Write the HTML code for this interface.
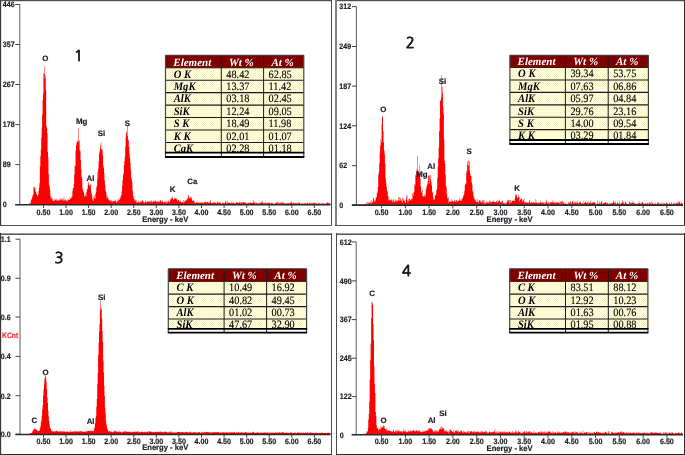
<!DOCTYPE html>
<html><head><meta charset="utf-8"><title>EDX spectra</title>
<style>html,body{margin:0;padding:0;background:#fff;} body{width:685px;height:455px;overflow:hidden;} svg{display:block;}</style>
</head><body>
<svg text-rendering="geometricPrecision" width="685" height="455" viewBox="0 0 685 455">
<defs><pattern id="chk" width="2" height="2" patternUnits="userSpaceOnUse"><rect width="2" height="2" fill="#fffff2"/><rect width="1" height="1" fill="#faf5b4"/><rect x="1" y="1" width="1" height="1" fill="#faf5b4"/></pattern></defs>
<rect width="685" height="455" fill="#fff"/>
<rect x="0" y="0" width="332" height="1" fill="#4e4e4e"/>
<rect x="0" y="1" width="332" height="0.35" fill="#999"/>
<rect x="0" y="0" width="1" height="226" fill="#383838"/>
<rect x="1" y="0" width="0.3" height="226" fill="#999"/>
<rect x="331" y="0" width="1" height="226" fill="#4c4c4c"/>
<rect x="0" y="225" width="332" height="1" fill="#555"/>
<rect x="335" y="0" width="350" height="1" fill="#4e4e4e"/>
<rect x="335" y="1" width="350" height="0.35" fill="#999"/>
<rect x="335" y="0" width="2" height="226" fill="#828282"/>
<rect x="684" y="0" width="1" height="226" fill="#2c2c2c"/>
<rect x="335" y="225" width="350" height="1" fill="#555"/>
<rect x="0" y="233" width="332" height="1" fill="#a0a0a0"/>
<rect x="0" y="234" width="332" height="1" fill="#5a5a5a"/>
<rect x="0" y="233" width="1" height="222" fill="#383838"/>
<rect x="1" y="233" width="0.3" height="222" fill="#999"/>
<rect x="331" y="233" width="1" height="222" fill="#4c4c4c"/>
<rect x="0" y="454" width="332" height="1" fill="#2c2c2c"/>
<rect x="336" y="233" width="349" height="1" fill="#a0a0a0"/>
<rect x="336" y="234" width="349" height="1" fill="#5a5a5a"/>
<rect x="336" y="233" width="1" height="222" fill="#4c4c4c"/>
<rect x="684" y="233" width="1" height="222" fill="#2c2c2c"/>
<rect x="336" y="454" width="349" height="1" fill="#2c2c2c"/>
<path d="M23.61,204.5 L23.61,204.50 L24.06,204.50 L24.06,204.50 L24.51,204.50 L24.51,204.50 L24.96,204.50 L24.96,204.50 L25.41,204.50 L25.41,204.50 L25.87,204.50 L25.87,204.50 L26.32,204.50 L26.32,204.50 L26.77,204.50 L26.77,204.50 L27.22,204.50 L27.22,204.48 L27.67,204.48 L27.67,204.09 L28.12,204.09 L28.12,204.38 L28.58,204.38 L28.58,203.99 L29.03,203.99 L29.03,204.28 L29.48,204.28 L29.48,202.87 L29.93,202.87 L29.93,202.80 L30.38,202.80 L30.38,203.71 L30.83,203.71 L30.83,200.17 L31.28,200.17 L31.28,199.23 L31.74,199.23 L31.74,198.80 L32.19,198.80 L32.19,196.49 L32.64,196.49 L32.64,195.36 L33.09,195.36 L33.09,194.30 L33.54,194.30 L33.54,186.92 L33.99,186.92 L33.99,188.51 L34.45,188.51 L34.45,186.60 L34.90,186.60 L34.90,187.38 L35.35,187.38 L35.35,192.10 L35.80,192.10 L35.80,191.36 L36.25,191.36 L36.25,194.06 L36.70,194.06 L36.70,194.18 L37.15,194.18 L37.15,196.39 L37.61,196.39 L37.61,195.62 L38.06,195.62 L38.06,194.55 L38.51,194.55 L38.51,190.89 L38.96,190.89 L38.96,187.79 L39.41,187.79 L39.41,183.24 L39.86,183.24 L39.86,166.40 L40.31,166.40 L40.31,156.27 L40.77,156.27 L40.77,149.47 L41.22,149.47 L41.22,137.63 L41.67,137.63 L41.67,127.71 L42.12,127.71 L42.12,114.65 L42.57,114.65 L42.57,100.29 L43.02,100.29 L43.02,93.82 L43.48,93.82 L43.47,73.04 L43.93,73.04 L43.93,73.99 L44.38,73.99 L44.38,66.40 L44.83,66.40 L44.83,78.17 L45.28,78.17 L45.28,75.23 L45.73,75.23 L45.73,90.78 L46.18,90.78 L46.18,125.67 L46.64,125.67 L46.64,127.78 L47.09,127.78 L47.09,133.00 L47.54,133.00 L47.54,152.11 L47.99,152.11 L47.99,156.94 L48.44,156.94 L48.44,174.11 L48.89,174.11 L48.89,184.73 L49.34,184.73 L49.34,186.45 L49.80,186.45 L49.80,190.08 L50.25,190.08 L50.25,195.58 L50.70,195.58 L50.70,198.45 L51.15,198.45 L51.15,198.44 L51.60,198.44 L51.60,196.28 L52.05,196.28 L52.05,198.43 L52.51,198.43 L52.50,200.86 L52.96,200.86 L52.96,200.22 L53.41,200.22 L53.41,200.92 L53.86,200.92 L53.86,201.26 L54.31,201.26 L54.31,198.91 L54.76,198.91 L54.76,200.60 L55.21,200.60 L55.21,199.59 L55.67,199.59 L55.67,199.92 L56.12,199.92 L56.12,200.60 L56.57,200.60 L56.57,198.91 L57.02,198.91 L57.02,200.94 L57.47,200.94 L57.47,199.25 L57.92,199.25 L57.92,200.94 L58.37,200.94 L58.37,199.92 L58.83,199.92 L58.83,200.60 L59.28,200.60 L59.28,200.26 L59.73,200.26 L59.73,197.56 L60.18,197.56 L60.18,198.91 L60.63,198.91 L60.63,200.26 L61.08,200.26 L61.08,198.24 L61.54,198.24 L61.53,200.60 L61.99,200.60 L61.99,199.92 L62.44,199.92 L62.44,198.57 L62.89,198.57 L62.89,199.25 L63.34,199.25 L63.34,200.94 L63.79,200.94 L63.79,196.88 L64.24,196.88 L64.24,200.60 L64.70,200.60 L64.70,200.60 L65.15,200.60 L65.15,198.91 L65.60,198.91 L65.60,200.26 L66.05,200.26 L66.05,200.26 L66.50,200.26 L66.50,201.28 L66.95,201.28 L66.95,201.28 L67.40,201.28 L67.40,199.59 L67.86,199.59 L67.86,200.61 L68.31,200.61 L68.31,199.59 L68.76,199.59 L68.76,199.91 L69.21,199.91 L69.21,199.89 L69.66,199.89 L69.66,197.14 L70.11,197.14 L70.11,199.09 L70.56,199.09 L70.56,198.30 L71.02,198.30 L71.02,196.42 L71.47,196.42 L71.47,198.17 L71.92,198.17 L71.92,196.76 L72.37,196.76 L72.37,190.69 L72.82,190.69 L72.82,188.31 L73.27,188.31 L73.27,187.76 L73.73,187.76 L73.73,183.81 L74.18,183.81 L74.18,174.53 L74.63,174.53 L74.63,165.47 L75.08,165.47 L75.08,166.16 L75.53,166.16 L75.53,150.84 L75.98,150.84 L75.98,145.58 L76.43,145.58 L76.43,143.09 L76.89,143.09 L76.89,140.21 L77.34,140.21 L77.34,141.49 L77.79,141.49 L77.79,142.34 L78.24,142.34 L78.24,128.10 L78.69,128.10 L78.69,140.98 L79.14,140.98 L79.14,140.12 L79.59,140.12 L79.59,150.24 L80.05,150.24 L80.05,150.84 L80.50,150.84 L80.50,160.16 L80.95,160.16 L80.95,169.43 L81.40,169.43 L81.40,176.76 L81.85,176.76 L81.85,178.47 L82.30,178.47 L82.30,188.16 L82.76,188.16 L82.76,190.33 L83.21,190.33 L83.21,191.66 L83.66,191.66 L83.66,192.45 L84.11,192.45 L84.11,195.14 L84.56,195.14 L84.56,196.96 L85.01,196.96 L85.01,193.51 L85.46,193.51 L85.46,195.96 L85.92,195.96 L85.92,196.61 L86.37,196.61 L86.37,191.95 L86.82,191.95 L86.82,188.65 L87.27,188.65 L87.27,189.35 L87.72,189.35 L87.72,186.11 L88.17,186.11 L88.17,183.48 L88.62,183.48 L88.62,181.90 L89.08,181.90 L89.08,185.57 L89.53,185.57 L89.53,185.28 L89.98,185.28 L89.98,184.06 L90.43,184.06 L90.43,185.15 L90.88,185.15 L90.88,191.04 L91.33,191.04 L91.33,193.46 L91.79,193.46 L91.79,195.62 L92.24,195.62 L92.24,198.68 L92.69,198.68 L92.69,200.59 L93.14,200.59 L93.14,201.04 L93.59,201.04 L93.59,196.99 L94.04,196.99 L94.04,197.90 L94.49,197.90 L94.49,194.98 L94.95,194.98 L94.95,199.04 L95.40,199.04 L95.40,193.83 L95.85,193.83 L95.85,191.77 L96.30,191.77 L96.30,187.20 L96.75,187.20 L96.75,185.54 L97.20,185.54 L97.20,171.80 L97.65,171.80 L97.66,178.61 L98.11,178.61 L98.11,168.80 L98.56,168.80 L98.56,161.54 L99.01,161.54 L99.01,153.94 L99.46,153.94 L99.46,151.48 L99.91,151.48 L99.91,148.25 L100.36,148.25 L100.36,144.97 L100.82,144.97 L100.82,142.20 L101.27,142.20 L101.27,149.80 L101.72,149.80 L101.72,149.05 L102.17,149.05 L102.17,150.02 L102.62,150.02 L102.62,155.51 L103.07,155.51 L103.07,165.36 L103.52,165.36 L103.52,167.92 L103.98,167.92 L103.98,172.84 L104.43,172.84 L104.43,180.47 L104.88,180.47 L104.88,184.76 L105.33,184.76 L105.33,189.90 L105.78,189.90 L105.78,192.10 L106.23,192.10 L106.23,194.68 L106.68,194.68 L106.69,198.86 L107.14,198.86 L107.14,197.85 L107.59,197.85 L107.59,196.06 L108.04,196.06 L108.04,198.59 L108.49,198.59 L108.49,199.71 L108.94,199.71 L108.94,200.80 L109.39,200.80 L109.39,200.16 L109.85,200.16 L109.85,200.53 L110.30,200.53 L110.30,200.88 L110.75,200.88 L110.75,199.88 L111.20,199.88 L111.20,202.25 L111.65,202.25 L111.65,200.23 L112.10,200.23 L112.10,202.60 L112.55,202.60 L112.55,200.91 L113.01,200.91 L113.01,200.91 L113.46,200.91 L113.46,201.59 L113.91,201.59 L113.91,200.58 L114.36,200.58 L114.36,200.92 L114.81,200.92 L114.81,200.92 L115.26,200.92 L115.26,199.57 L115.71,199.57 L115.72,201.60 L116.17,201.60 L116.17,202.95 L116.62,202.95 L116.62,201.59 L117.07,201.59 L117.07,200.57 L117.52,200.57 L117.52,201.56 L117.97,201.56 L117.97,201.53 L118.42,201.53 L118.42,199.11 L118.88,199.11 L118.88,199.70 L119.33,199.70 L119.33,199.90 L119.78,199.90 L119.78,197.34 L120.23,197.34 L120.23,198.40 L120.68,198.40 L120.68,195.64 L121.13,195.64 L121.13,195.44 L121.58,195.44 L121.58,191.45 L122.04,191.45 L122.04,185.81 L122.49,185.81 L122.49,180.10 L122.94,180.10 L122.94,175.13 L123.39,175.13 L123.39,173.21 L123.84,173.21 L123.84,165.37 L124.29,165.37 L124.29,161.00 L124.74,161.00 L124.75,156.74 L125.20,156.74 L125.20,146.57 L125.65,146.57 L125.65,137.15 L126.10,137.15 L126.10,132.52 L126.55,132.52 L126.55,131.61 L127.00,131.61 L127.00,125.80 L127.45,125.80 L127.45,135.94 L127.91,135.94 L127.91,139.75 L128.36,139.75 L128.36,140.14 L128.81,140.14 L128.81,147.10 L129.26,147.10 L129.26,153.74 L129.71,153.74 L129.71,158.12 L130.16,158.12 L130.16,163.04 L130.61,163.04 L130.61,170.59 L131.07,170.59 L131.07,177.84 L131.52,177.84 L131.52,179.54 L131.97,179.54 L131.97,182.03 L132.42,182.03 L132.42,190.53 L132.87,190.53 L132.87,195.64 L133.32,195.64 L133.32,198.25 L133.78,198.25 L133.78,195.99 L134.23,195.99 L134.23,200.71 L134.68,200.71 L134.68,199.25 L135.13,199.25 L135.13,200.08 L135.58,200.08 L135.58,201.20 L136.03,201.20 L136.03,200.26 L136.48,200.26 L136.48,203.00 L136.94,203.00 L136.94,202.35 L137.39,202.35 L137.39,201.70 L137.84,201.70 L137.84,203.06 L138.29,203.06 L138.29,200.70 L138.74,200.70 L138.74,202.06 L139.19,202.06 L139.19,202.40 L139.64,202.40 L139.64,202.74 L140.10,202.74 L140.10,201.39 L140.55,201.39 L140.55,201.73 L141.00,201.73 L141.00,201.39 L141.45,201.39 L141.45,201.40 L141.90,201.40 L141.90,200.72 L142.35,200.72 L142.35,200.05 L142.81,200.05 L142.81,201.06 L143.26,201.06 L143.26,202.42 L143.71,202.42 L143.71,201.74 L144.16,201.74 L144.16,202.42 L144.61,202.42 L144.61,203.44 L145.06,203.44 L145.06,201.75 L145.51,201.75 L145.51,201.08 L145.97,201.08 L145.97,202.43 L146.42,202.43 L146.42,202.09 L146.87,202.09 L146.87,202.10 L147.32,202.10 L147.32,201.08 L147.77,201.08 L147.77,201.76 L148.22,201.76 L148.22,201.43 L148.67,201.43 L148.67,201.09 L149.13,201.09 L149.13,202.11 L149.58,202.11 L149.58,201.09 L150.03,201.09 L150.03,200.42 L150.48,200.42 L150.48,202.79 L150.93,202.79 L150.93,200.43 L151.38,200.43 L151.38,201.10 L151.84,201.10 L151.84,202.79 L152.29,202.79 L152.29,201.78 L152.74,201.78 L152.74,201.45 L153.19,201.45 L153.19,200.43 L153.64,200.43 L153.64,202.12 L154.09,202.12 L154.09,201.79 L154.54,201.79 L154.54,200.78 L155.00,200.78 L155.00,201.12 L155.45,201.12 L155.45,200.44 L155.90,200.44 L155.90,201.80 L156.35,201.80 L156.35,201.46 L156.80,201.46 L156.80,202.48 L157.25,202.48 L157.25,201.46 L157.70,201.46 L157.70,201.13 L158.16,201.13 L158.16,201.47 L158.61,201.47 L158.61,201.47 L159.06,201.47 L159.06,202.48 L159.51,202.48 L159.51,200.80 L159.96,200.80 L159.96,200.12 L160.41,200.12 L160.41,200.13 L160.87,200.13 L160.87,201.82 L161.32,201.82 L161.32,201.14 L161.77,201.14 L161.77,202.16 L162.22,202.16 L162.22,200.81 L162.67,200.81 L162.67,201.15 L163.12,201.15 L163.12,202.16 L163.57,202.16 L163.57,202.84 L164.03,202.84 L164.03,202.16 L164.48,202.16 L164.48,201.82 L164.93,201.82 L164.93,201.48 L165.38,201.48 L165.38,201.81 L165.83,201.81 L165.83,203.16 L166.28,203.16 L166.28,201.12 L166.73,201.12 L166.73,202.79 L167.19,202.79 L167.19,201.08 L167.64,201.08 L167.64,202.40 L168.09,202.40 L168.09,201.69 L168.54,201.69 L168.54,200.29 L168.99,200.29 L168.99,201.92 L169.44,201.92 L169.44,201.85 L169.90,201.85 L169.90,200.43 L170.35,200.43 L170.35,199.34 L170.80,199.34 L170.80,198.58 L171.25,198.58 L171.25,198.83 L171.70,198.83 L171.70,197.06 L172.15,197.06 L172.15,199.02 L172.60,199.02 L172.60,196.60 L173.06,196.60 L173.06,199.94 L173.51,199.94 L173.51,199.24 L173.96,199.24 L173.96,198.23 L174.41,198.23 L174.41,199.26 L174.86,199.26 L174.86,197.95 L175.31,197.95 L175.31,198.34 L175.76,198.34 L175.76,199.09 L176.22,199.09 L176.22,198.16 L176.67,198.16 L176.67,199.60 L177.12,199.60 L177.12,200.70 L177.57,200.70 L177.57,200.78 L178.02,200.78 L178.02,199.85 L178.47,199.85 L178.47,199.92 L178.93,199.92 L178.93,202.00 L179.38,202.00 L179.38,200.71 L179.83,200.71 L179.83,200.07 L180.28,200.07 L180.28,201.80 L180.73,201.80 L180.73,201.82 L181.18,201.82 L181.18,202.51 L181.63,202.51 L181.63,201.85 L182.09,201.85 L182.09,202.19 L182.54,202.19 L182.54,201.84 L182.99,201.84 L182.99,203.18 L183.44,203.18 L183.44,200.11 L183.89,200.11 L183.89,201.76 L184.34,201.76 L184.34,201.70 L184.79,201.70 L184.79,200.27 L185.25,200.27 L185.25,200.51 L185.70,200.51 L185.70,200.40 L186.15,200.40 L186.15,199.26 L186.60,199.26 L186.60,200.81 L187.05,200.81 L187.05,198.64 L187.50,198.64 L187.50,198.51 L187.96,198.51 L187.96,195.36 L188.41,195.36 L188.41,195.28 L188.86,195.28 L188.86,197.93 L189.31,197.93 L189.31,197.25 L189.76,197.25 L189.76,198.64 L190.21,198.64 L190.21,197.70 L190.66,197.70 L190.66,196.79 L191.12,196.79 L191.12,196.91 L191.57,196.91 L191.57,199.08 L192.02,199.08 L192.02,200.24 L192.47,200.24 L192.47,201.05 L192.92,201.05 L192.92,200.50 L193.37,200.50 L193.37,199.59 L193.82,199.59 L193.82,202.38 L194.28,202.38 L194.28,201.10 L194.73,201.10 L194.73,203.17 L195.18,203.17 L195.18,202.88 L195.63,202.88 L195.63,202.90 L196.08,202.90 L196.08,201.91 L196.53,201.91 L196.53,202.60 L196.99,202.60 L196.99,202.61 L197.44,202.61 L197.44,202.27 L197.89,202.27 L197.89,203.29 L198.34,203.29 L198.34,201.94 L198.79,201.94 L198.79,203.30 L199.24,203.30 L199.24,202.28 L199.69,202.28 L199.69,202.96 L200.15,202.96 L200.15,202.96 L200.60,202.96 L200.60,202.29 L201.05,202.29 L201.05,202.63 L201.50,202.63 L201.50,202.63 L201.95,202.63 L201.95,202.63 L202.40,202.63 L202.40,202.29 L202.85,202.29 L202.85,203.31 L203.31,203.31 L203.31,202.97 L203.76,202.97 L203.76,202.30 L204.21,202.30 L204.21,202.30 L204.66,202.30 L204.66,202.30 L205.11,202.30 L205.11,201.63 L205.56,201.63 L205.56,202.30 L206.02,202.30 L206.02,201.63 L206.47,201.63 L206.47,202.98 L206.92,202.98 L206.92,201.97 L207.37,201.97 L207.37,201.97 L207.82,201.97 L207.82,201.63 L208.27,201.63 L208.27,202.99 L208.72,202.99 L208.72,202.99 L209.18,202.99 L209.18,201.30 L209.63,201.30 L209.63,202.99 L210.08,202.99 L210.08,199.95 L210.53,199.95 L210.53,201.64 L210.98,201.64 L210.98,203.33 L211.43,203.33 L211.43,203.00 L211.88,203.00 L211.88,202.32 L212.34,202.32 L212.34,203.00 L212.79,203.00 L212.79,203.34 L213.24,203.34 L213.24,201.99 L213.69,201.99 L213.69,202.66 L214.14,202.66 L214.14,201.99 L214.59,201.99 L214.59,203.34 L215.05,203.34 L215.05,202.67 L215.50,202.67 L215.50,202.33 L215.95,202.33 L215.95,203.68 L216.40,203.68 L216.40,203.35 L216.85,203.35 L216.85,202.33 L217.30,202.33 L217.30,201.66 L217.75,201.66 L217.75,201.32 L218.21,201.32 L218.21,203.35 L218.66,203.35 L218.66,202.68 L219.11,202.68 L219.11,202.00 L219.56,202.00 L219.56,202.68 L220.01,202.68 L220.01,202.34 L220.46,202.34 L220.46,203.36 L220.91,203.36 L220.91,203.70 L221.37,203.70 L221.37,203.36 L221.82,203.36 L221.82,203.70 L222.27,203.70 L222.27,202.69 L222.72,202.69 L222.72,202.69 L223.17,202.69 L223.17,202.69 L223.62,202.69 L223.62,203.36 L224.08,203.36 L224.08,203.37 L224.53,203.37 L224.53,203.37 L224.98,203.37 L224.98,202.02 L225.43,202.02 L225.43,201.01 L225.88,201.01 L225.88,201.68 L226.33,201.68 L226.33,203.37 L226.78,203.37 L226.78,203.71 L227.24,203.71 L227.24,201.35 L227.69,201.35 L227.69,202.70 L228.14,202.70 L228.14,202.36 L228.59,202.36 L228.59,203.04 L229.04,203.04 L229.04,202.70 L229.49,202.70 L229.49,202.70 L229.94,202.70 L229.94,203.04 L230.40,203.04 L230.40,202.71 L230.85,202.71 L230.85,204.06 L231.30,204.06 L231.30,202.37 L231.75,202.37 L231.75,202.03 L232.20,202.03 L232.20,203.38 L232.65,203.38 L232.65,202.71 L233.11,202.71 L233.11,202.37 L233.56,202.37 L233.56,203.05 L234.01,203.05 L234.01,203.39 L234.46,203.39 L234.46,203.39 L234.91,203.39 L234.91,202.72 L235.36,202.72 L235.36,204.07 L235.81,204.07 L235.81,202.04 L236.27,202.04 L236.27,202.38 L236.72,202.38 L236.72,202.38 L237.17,202.38 L237.17,202.05 L237.62,202.05 L237.62,202.72 L238.07,202.72 L238.07,203.06 L238.52,203.06 L238.52,202.72 L238.97,202.72 L238.97,202.73 L239.43,202.73 L239.43,201.38 L239.88,201.38 L239.88,202.39 L240.33,202.39 L240.33,203.40 L240.78,203.40 L240.78,202.05 L241.23,202.05 L241.23,202.39 L241.68,202.39 L241.68,202.39 L242.14,202.39 L242.14,202.39 L242.59,202.39 L242.59,203.07 L243.04,203.07 L243.04,202.06 L243.49,202.06 L243.49,202.06 L243.94,202.06 L243.94,202.40 L244.39,202.40 L244.39,202.40 L244.84,202.40 L244.84,202.40 L245.30,202.40 L245.30,203.08 L245.75,203.08 L245.75,202.40 L246.20,202.40 L246.20,203.75 L246.65,203.75 L246.65,203.08 L247.10,203.08 L247.10,203.08 L247.55,203.08 L247.55,204.09 L248.00,204.09 L248.00,203.08 L248.46,203.08 L248.46,202.75 L248.91,202.75 L248.91,202.75 L249.36,202.75 L249.36,203.42 L249.81,203.42 L249.81,201.74 L250.26,201.74 L250.26,202.75 L250.71,202.75 L250.71,203.09 L251.17,203.09 L251.17,202.75 L251.62,202.75 L251.62,202.75 L252.07,202.75 L252.07,202.75 L252.52,202.75 L252.52,203.09 L252.97,203.09 L252.97,200.05 L253.42,200.05 L253.42,202.76 L253.87,202.76 L253.87,202.76 L254.33,202.76 L254.33,202.42 L254.78,202.42 L254.78,201.41 L255.23,201.41 L255.23,204.11 L255.68,204.11 L255.68,202.76 L256.13,202.76 L256.13,202.42 L256.58,202.42 L256.58,203.44 L257.03,203.44 L257.03,203.10 L257.49,203.10 L257.49,203.78 L257.94,203.78 L257.94,203.44 L258.39,203.44 L258.39,203.10 L258.84,203.10 L258.84,203.78 L259.29,203.78 L259.29,203.44 L259.74,203.44 L259.74,202.09 L260.19,202.09 L260.19,203.11 L260.65,203.11 L260.65,203.11 L261.10,203.11 L261.10,201.76 L261.55,201.76 L261.55,202.77 L262.00,202.77 L262.00,201.08 L262.45,201.08 L262.45,202.77 L262.90,202.77 L262.90,202.44 L263.36,202.44 L263.36,203.79 L263.81,203.79 L263.81,202.78 L264.26,202.78 L264.26,202.78 L264.71,202.78 L264.71,203.79 L265.16,203.79 L265.16,202.10 L265.61,202.10 L265.61,203.45 L266.06,203.45 L266.06,203.12 L266.52,203.12 L266.52,203.46 L266.97,203.46 L266.97,203.12 L267.42,203.12 L267.42,202.78 L267.87,202.78 L267.87,203.80 L268.32,203.80 L268.32,202.11 L268.77,202.11 L268.77,203.12 L269.23,203.12 L269.23,203.12 L269.68,203.12 L269.68,202.79 L270.13,202.79 L270.13,203.46 L270.58,203.46 L270.58,203.46 L271.03,203.46 L271.03,202.79 L271.48,202.79 L271.48,203.13 L271.93,203.13 L271.93,203.46 L272.39,203.46 L272.39,202.79 L272.84,202.79 L272.84,203.47 L273.29,203.47 L273.29,204.14 L273.74,204.14 L273.74,203.47 L274.19,203.47 L274.19,203.81 L274.64,203.81 L274.64,203.81 L275.09,203.81 L275.09,202.80 L275.55,202.80 L275.55,203.47 L276.00,203.47 L276.00,202.46 L276.45,202.46 L276.45,202.80 L276.90,202.80 L276.90,203.81 L277.35,203.81 L277.35,201.45 L277.80,201.45 L277.80,202.12 L278.25,202.12 L278.25,203.81 L278.71,203.81 L278.71,202.46 L279.16,202.46 L279.16,203.14 L279.61,203.14 L279.61,203.14 L280.06,203.14 L280.06,201.79 L280.51,201.79 L280.51,203.48 L280.96,203.48 L280.96,203.14 L281.42,203.14 L281.42,202.13 L281.87,202.13 L281.87,202.81 L282.32,202.81 L282.32,203.14 L282.77,203.14 L282.77,201.79 L283.22,201.79 L283.22,202.47 L283.67,202.47 L283.67,203.15 L284.12,203.15 L284.12,203.82 L284.58,203.82 L284.58,203.15 L285.03,203.15 L285.03,203.15 L285.48,203.15 L285.48,203.49 L285.93,203.49 L285.93,203.83 L286.38,203.83 L286.38,203.15 L286.83,203.15 L286.83,203.83 L287.28,203.83 L287.28,203.15 L287.74,203.15 L287.74,202.82 L288.19,202.82 L288.19,203.15 L288.64,203.15 L288.64,203.49 L289.09,203.49 L289.09,203.16 L289.54,203.16 L289.54,203.49 L289.99,203.49 L289.99,202.82 L290.45,202.82 L290.45,203.16 L290.90,203.16 L290.90,201.13 L291.35,201.13 L291.35,202.15 L291.80,202.15 L291.80,202.82 L292.25,202.82 L292.25,203.50 L292.70,203.50 L292.70,203.84 L293.15,203.84 L293.15,202.49 L293.61,202.49 L293.61,202.82 L294.06,202.82 L294.06,203.16 L294.51,203.16 L294.51,203.50 L294.96,203.50 L294.96,203.50 L295.41,203.50 L295.41,202.83 L295.86,202.83 L295.86,203.17 L296.31,203.17 L296.31,203.17 L296.77,203.17 L296.77,203.17 L297.22,203.17 L297.22,202.83 L297.67,202.83 L297.67,203.84 L298.12,203.84 L298.12,203.51 L298.57,203.51 L298.57,201.82 L299.02,201.82 L299.02,202.49 L299.48,202.49 L299.48,202.50 L299.93,202.50 L299.93,204.18 L300.38,204.18 L300.38,203.85 L300.83,203.85 L300.83,203.51 L301.28,203.51 L301.28,203.51 L301.73,203.51 L301.73,203.17 L302.18,203.17 L302.18,203.85 L302.64,203.85 L302.64,203.17 L303.09,203.17 L303.09,203.85 L303.54,203.85 L303.54,203.85 L303.99,203.85 L303.99,203.18 L304.44,203.18 L304.44,203.18 L304.89,203.18 L304.89,203.18 L305.34,203.18 L305.34,203.52 L305.80,203.52 L305.80,203.52 L306.25,203.52 L306.25,203.86 L306.70,203.86 L306.70,203.52 L307.15,203.52 L307.15,202.84 L307.60,202.84 L307.60,202.84 L308.05,202.84 L308.05,203.86 L308.51,203.86 L308.51,203.86 L308.96,203.86 L308.96,202.85 L309.41,202.85 L309.41,203.18 L309.86,203.18 L309.86,202.85 L310.31,202.85 L310.31,203.86 L310.76,203.86 L310.76,203.52 L311.21,203.52 L311.21,203.52 L311.67,203.52 L311.67,202.85 L312.12,202.85 L312.12,203.53 L312.57,203.53 L312.57,203.19 L313.02,203.19 L313.02,201.84 L313.47,201.84 L313.47,203.53 L313.92,203.53 L313.92,203.19 L314.38,203.19 L314.38,202.85 L314.83,202.85 L314.83,202.52 L315.28,202.52 L315.28,203.53 L315.73,203.53 L315.73,203.53 L316.18,203.53 L316.18,203.87 L316.63,203.87 L316.63,202.86 L317.08,202.86 L317.08,203.87 L317.54,203.87 L317.54,203.87 L317.99,203.87 L317.99,203.19 L318.44,203.19 L318.44,203.53 L318.89,203.53 L318.89,203.20 L319.34,203.20 L319.34,203.53 L319.79,203.53 L319.79,202.86 L320.24,202.86 L320.24,204.21 L320.70,204.21 L320.70,203.87 L321.15,203.87 L321.15,203.20 L321.60,203.20 L321.60,203.87 L322.05,203.87 L322.05,203.54 L322.50,203.54 L322.50,203.20 L322.95,203.20 L322.95,203.20 L323.40,203.20 L323.40,203.54 L323.86,203.54 L323.86,203.88 L324.31,203.88 L324.31,203.54 L324.76,203.54 L324.76,203.20 L325.21,203.20 L325.21,203.54 L325.66,203.54 L325.66,203.88 L326.11,203.88 L326.11,203.20 L326.57,203.20 L326.57,203.21 L327.02,203.21 L327.02,202.53 L327.47,202.53 L327.47,202.53 L327.92,202.53 L327.92,202.53 L328.37,202.53 L328.37,203.54 L328.82,203.54 L328.82,202.87 L329.27,202.87 L329.27,203.55 L329.73,203.55 L329.73,203.55 L330.18,203.55 L330.18,203.55 L330.50,203.55 L330.50,204.5 Z" fill="#ff0000" stroke="none"/>
<line x1="19.8" y1="4.5" x2="19.8" y2="204.5" stroke="#5a5a5a" stroke-width="1"/>
<line x1="15.3" y1="4.5" x2="19.8" y2="4.5" stroke="#444" stroke-width="1"/>
<text transform="translate(2.80,7.30) scale(0.9,1)" text-anchor="start" font-family="'Liberation Sans', Arial, sans-serif" font-weight="bold" font-size="7.9" fill="#1c1c24" stroke="#1c1c24" stroke-width="0.18">446</text>
<line x1="15.3" y1="44.5" x2="19.8" y2="44.5" stroke="#444" stroke-width="1"/>
<text transform="translate(2.80,47.30) scale(0.9,1)" text-anchor="start" font-family="'Liberation Sans', Arial, sans-serif" font-weight="bold" font-size="7.9" fill="#1c1c24" stroke="#1c1c24" stroke-width="0.18">357</text>
<line x1="15.3" y1="84.5" x2="19.8" y2="84.5" stroke="#444" stroke-width="1"/>
<text transform="translate(2.80,87.30) scale(0.9,1)" text-anchor="start" font-family="'Liberation Sans', Arial, sans-serif" font-weight="bold" font-size="7.9" fill="#1c1c24" stroke="#1c1c24" stroke-width="0.18">267</text>
<line x1="15.3" y1="124.6" x2="19.8" y2="124.6" stroke="#444" stroke-width="1"/>
<text transform="translate(2.80,127.40) scale(0.9,1)" text-anchor="start" font-family="'Liberation Sans', Arial, sans-serif" font-weight="bold" font-size="7.9" fill="#1c1c24" stroke="#1c1c24" stroke-width="0.18">178</text>
<line x1="15.3" y1="164.6" x2="19.8" y2="164.6" stroke="#444" stroke-width="1"/>
<text transform="translate(2.80,167.40) scale(0.9,1)" text-anchor="start" font-family="'Liberation Sans', Arial, sans-serif" font-weight="bold" font-size="7.9" fill="#1c1c24" stroke="#1c1c24" stroke-width="0.18">89</text>
<line x1="15.3" y1="204.6" x2="19.8" y2="204.6" stroke="#444" stroke-width="1"/>
<text transform="translate(2.80,207.40) scale(0.9,1)" text-anchor="start" font-family="'Liberation Sans', Arial, sans-serif" font-weight="bold" font-size="7.9" fill="#1c1c24" stroke="#1c1c24" stroke-width="0.18">0</text>
<line x1="15.3" y1="204.8" x2="330.5" y2="204.8" stroke="#2a2a2a" stroke-width="1.6"/>
<line x1="43.5" y1="205.0" x2="43.5" y2="208.0" stroke="#444" stroke-width="1"/>
<text transform="translate(43.47,214.90) scale(0.9,1)" text-anchor="middle" font-family="'Liberation Sans', Arial, sans-serif" font-weight="bold" font-size="7.9" fill="#1c1c24" stroke="#1c1c24" stroke-width="0.18">0.50</text>
<line x1="66.0" y1="205.0" x2="66.0" y2="208.0" stroke="#444" stroke-width="1"/>
<text transform="translate(66.05,214.90) scale(0.9,1)" text-anchor="middle" font-family="'Liberation Sans', Arial, sans-serif" font-weight="bold" font-size="7.9" fill="#1c1c24" stroke="#1c1c24" stroke-width="0.18">1.00</text>
<line x1="88.6" y1="205.0" x2="88.6" y2="208.0" stroke="#444" stroke-width="1"/>
<text transform="translate(88.62,214.90) scale(0.9,1)" text-anchor="middle" font-family="'Liberation Sans', Arial, sans-serif" font-weight="bold" font-size="7.9" fill="#1c1c24" stroke="#1c1c24" stroke-width="0.18">1.50</text>
<line x1="111.2" y1="205.0" x2="111.2" y2="208.0" stroke="#444" stroke-width="1"/>
<text transform="translate(111.20,214.90) scale(0.9,1)" text-anchor="middle" font-family="'Liberation Sans', Arial, sans-serif" font-weight="bold" font-size="7.9" fill="#1c1c24" stroke="#1c1c24" stroke-width="0.18">2.00</text>
<line x1="133.8" y1="205.0" x2="133.8" y2="208.0" stroke="#444" stroke-width="1"/>
<text transform="translate(133.78,214.90) scale(0.9,1)" text-anchor="middle" font-family="'Liberation Sans', Arial, sans-serif" font-weight="bold" font-size="7.9" fill="#1c1c24" stroke="#1c1c24" stroke-width="0.18">2.50</text>
<line x1="156.3" y1="205.0" x2="156.3" y2="208.0" stroke="#444" stroke-width="1"/>
<text transform="translate(156.35,214.90) scale(0.9,1)" text-anchor="middle" font-family="'Liberation Sans', Arial, sans-serif" font-weight="bold" font-size="7.9" fill="#1c1c24" stroke="#1c1c24" stroke-width="0.18">3.00</text>
<line x1="178.9" y1="205.0" x2="178.9" y2="208.0" stroke="#444" stroke-width="1"/>
<text transform="translate(178.93,214.90) scale(0.9,1)" text-anchor="middle" font-family="'Liberation Sans', Arial, sans-serif" font-weight="bold" font-size="7.9" fill="#1c1c24" stroke="#1c1c24" stroke-width="0.18">3.50</text>
<line x1="201.5" y1="205.0" x2="201.5" y2="208.0" stroke="#444" stroke-width="1"/>
<text transform="translate(201.50,214.90) scale(0.9,1)" text-anchor="middle" font-family="'Liberation Sans', Arial, sans-serif" font-weight="bold" font-size="7.9" fill="#1c1c24" stroke="#1c1c24" stroke-width="0.18">4.00</text>
<line x1="224.1" y1="205.0" x2="224.1" y2="208.0" stroke="#444" stroke-width="1"/>
<text transform="translate(224.07,214.90) scale(0.9,1)" text-anchor="middle" font-family="'Liberation Sans', Arial, sans-serif" font-weight="bold" font-size="7.9" fill="#1c1c24" stroke="#1c1c24" stroke-width="0.18">4.50</text>
<line x1="246.7" y1="205.0" x2="246.7" y2="208.0" stroke="#444" stroke-width="1"/>
<text transform="translate(246.65,214.90) scale(0.9,1)" text-anchor="middle" font-family="'Liberation Sans', Arial, sans-serif" font-weight="bold" font-size="7.9" fill="#1c1c24" stroke="#1c1c24" stroke-width="0.18">5.00</text>
<line x1="269.2" y1="205.0" x2="269.2" y2="208.0" stroke="#444" stroke-width="1"/>
<text transform="translate(269.22,214.90) scale(0.9,1)" text-anchor="middle" font-family="'Liberation Sans', Arial, sans-serif" font-weight="bold" font-size="7.9" fill="#1c1c24" stroke="#1c1c24" stroke-width="0.18">5.50</text>
<line x1="291.8" y1="205.0" x2="291.8" y2="208.0" stroke="#444" stroke-width="1"/>
<text transform="translate(291.80,214.90) scale(0.9,1)" text-anchor="middle" font-family="'Liberation Sans', Arial, sans-serif" font-weight="bold" font-size="7.9" fill="#1c1c24" stroke="#1c1c24" stroke-width="0.18">6.00</text>
<line x1="314.4" y1="205.0" x2="314.4" y2="208.0" stroke="#444" stroke-width="1"/>
<text transform="translate(314.37,214.90) scale(0.9,1)" text-anchor="middle" font-family="'Liberation Sans', Arial, sans-serif" font-weight="bold" font-size="7.9" fill="#1c1c24" stroke="#1c1c24" stroke-width="0.18">6.50</text>
<text transform="translate(165.20,221.90) scale(0.94,1)" text-anchor="middle" font-family="'Liberation Sans', Arial, sans-serif" font-weight="bold" font-size="8.1" fill="#1c1c24" stroke="#1c1c24" stroke-width="0.18">Energy - keV</text>
<text transform="translate(45.20,60.50) scale(1.0,1)" text-anchor="middle" font-family="'Liberation Sans', Arial, sans-serif" font-weight="bold" font-size="7.9" fill="#1c1c24" stroke="#1c1c24" stroke-width="0.18">O</text>
<text transform="translate(81.60,123.80) scale(1.0,1)" text-anchor="middle" font-family="'Liberation Sans', Arial, sans-serif" font-weight="bold" font-size="7.9" fill="#1c1c24" stroke="#1c1c24" stroke-width="0.18">Mg</text>
<text transform="translate(90.50,180.50) scale(1.0,1)" text-anchor="middle" font-family="'Liberation Sans', Arial, sans-serif" font-weight="bold" font-size="7.9" fill="#1c1c24" stroke="#1c1c24" stroke-width="0.18">Al</text>
<text transform="translate(101.40,135.70) scale(1.0,1)" text-anchor="middle" font-family="'Liberation Sans', Arial, sans-serif" font-weight="bold" font-size="7.9" fill="#1c1c24" stroke="#1c1c24" stroke-width="0.18">Si</text>
<text transform="translate(127.40,125.60) scale(1.0,1)" text-anchor="middle" font-family="'Liberation Sans', Arial, sans-serif" font-weight="bold" font-size="7.9" fill="#1c1c24" stroke="#1c1c24" stroke-width="0.18">S</text>
<text transform="translate(172.60,191.80) scale(1.0,1)" text-anchor="middle" font-family="'Liberation Sans', Arial, sans-serif" font-weight="bold" font-size="7.9" fill="#1c1c24" stroke="#1c1c24" stroke-width="0.18">K</text>
<text transform="translate(192.30,184.20) scale(1.0,1)" text-anchor="middle" font-family="'Liberation Sans', Arial, sans-serif" font-weight="bold" font-size="7.9" fill="#1c1c24" stroke="#1c1c24" stroke-width="0.18">Ca</text>
<path d="M359.70,204.8 L359.70,204.80 L360.18,204.80 L360.18,204.80 L360.65,204.80 L360.65,204.80 L361.13,204.80 L361.13,204.80 L361.60,204.80 L361.60,204.80 L362.08,204.80 L362.08,204.80 L362.56,204.80 L362.56,204.79 L363.03,204.79 L363.03,204.22 L363.51,204.22 L363.51,204.20 L363.98,204.20 L363.98,204.17 L364.46,204.17 L364.46,204.15 L364.93,204.15 L364.93,203.59 L365.41,203.59 L365.41,204.64 L365.88,204.64 L365.88,203.54 L366.36,203.54 L366.36,204.05 L366.83,204.05 L366.83,201.87 L367.31,201.87 L367.31,204.54 L367.79,204.54 L367.79,202.36 L368.26,202.36 L368.26,203.95 L368.74,203.95 L368.74,202.31 L369.21,202.31 L369.21,202.82 L369.69,202.82 L369.69,202.80 L370.16,202.80 L370.16,201.16 L370.64,201.16 L370.64,203.83 L371.11,203.83 L371.11,203.27 L371.59,203.27 L371.59,200.00 L372.06,200.00 L372.06,201.60 L372.54,201.60 L372.54,202.65 L373.02,202.65 L373.02,197.76 L373.49,197.76 L373.49,198.26 L373.97,198.26 L373.97,202.00 L374.44,202.00 L374.44,200.31 L374.92,200.31 L374.92,201.30 L375.39,201.30 L375.39,199.55 L375.87,199.55 L375.87,196.65 L376.34,196.65 L376.34,197.43 L376.82,197.43 L376.82,191.62 L377.30,191.62 L377.30,193.31 L377.77,193.31 L377.77,186.98 L378.25,186.98 L378.25,174.77 L378.72,174.77 L378.72,171.62 L379.20,171.62 L379.20,163.29 L379.67,163.29 L379.67,152.51 L380.15,152.51 L380.15,145.46 L380.62,145.46 L380.62,139.18 L381.10,139.18 L381.10,142.48 L381.58,142.48 L381.57,124.44 L382.05,124.44 L382.05,116.10 L382.53,116.10 L382.53,117.36 L383.00,117.36 L383.00,131.17 L383.48,131.17 L383.48,142.22 L383.95,142.22 L383.95,150.04 L384.43,150.04 L384.43,154.61 L384.90,154.61 L384.90,163.62 L385.38,163.62 L385.38,178.04 L385.85,178.04 L385.85,182.77 L386.33,182.77 L386.33,187.02 L386.81,187.02 L386.81,190.22 L387.28,190.22 L387.28,191.79 L387.76,191.79 L387.76,195.91 L388.23,195.91 L388.23,200.46 L388.71,200.46 L388.71,196.83 L389.18,196.83 L389.18,199.63 L389.66,199.63 L389.66,199.68 L390.13,199.68 L390.13,200.79 L390.61,200.79 L390.61,200.27 L391.09,200.27 L391.09,200.28 L391.56,200.28 L391.56,198.66 L392.04,198.66 L392.04,201.90 L392.51,201.90 L392.51,199.74 L392.99,199.74 L392.99,201.36 L393.46,201.36 L393.46,199.20 L393.94,199.20 L393.94,202.44 L394.41,202.44 L394.41,200.82 L394.89,200.82 L394.89,200.82 L395.36,200.82 L395.36,199.20 L395.84,199.20 L395.84,201.90 L396.32,201.90 L396.32,200.28 L396.79,200.28 L396.79,201.36 L397.27,201.36 L397.27,200.82 L397.74,200.82 L397.74,200.28 L398.22,200.28 L398.22,197.04 L398.69,197.04 L398.69,200.28 L399.17,200.28 L399.17,197.04 L399.64,197.04 L399.64,201.36 L400.12,201.36 L400.12,197.58 L400.60,197.58 L400.60,200.28 L401.07,200.28 L401.07,201.36 L401.55,201.36 L401.55,199.20 L402.02,199.20 L402.02,197.58 L402.50,197.58 L402.50,202.98 L402.97,202.98 L402.97,200.82 L403.45,200.82 L403.45,198.66 L403.92,198.66 L403.92,200.82 L404.40,200.82 L404.40,200.82 L404.87,200.82 L404.87,202.98 L405.35,202.98 L405.35,202.45 L405.83,202.45 L405.83,199.75 L406.30,199.75 L406.30,196.51 L406.78,196.51 L406.78,194.89 L407.25,194.89 L407.25,200.29 L407.73,200.29 L407.73,202.45 L408.20,202.45 L408.20,200.84 L408.68,200.84 L408.68,198.67 L409.15,198.67 L409.15,198.67 L409.63,198.67 L409.63,199.20 L410.11,199.20 L410.11,200.81 L410.58,200.81 L410.58,199.70 L411.06,199.70 L411.06,199.65 L411.53,199.65 L411.53,198.49 L412.01,198.49 L412.01,198.91 L412.48,198.91 L412.48,193.34 L412.96,193.34 L412.96,192.56 L413.43,192.56 L413.43,195.48 L413.91,195.48 L413.91,191.84 L414.38,191.84 L414.38,184.03 L414.86,184.03 L414.86,185.56 L415.34,185.56 L415.34,174.69 L415.81,174.69 L415.81,176.32 L416.29,176.32 L416.29,171.36 L416.76,171.36 L416.76,168.80 L417.24,168.80 L417.24,155.80 L417.71,155.80 L417.71,171.62 L418.19,171.62 L418.19,172.94 L418.66,172.94 L418.66,170.55 L419.14,170.55 L419.14,173.46 L419.62,173.46 L419.62,164.80 L420.09,164.80 L420.09,178.66 L420.57,178.66 L420.57,186.74 L421.04,186.74 L421.04,191.16 L421.52,191.16 L421.52,192.67 L421.99,192.67 L421.99,189.77 L422.47,189.77 L422.47,195.97 L422.94,195.97 L422.94,197.22 L423.42,197.22 L423.42,195.69 L423.89,195.69 L423.89,194.62 L424.37,194.62 L424.37,196.16 L424.85,196.16 L424.85,197.08 L425.32,197.08 L425.32,194.66 L425.80,194.66 L425.80,189.45 L426.27,189.45 L426.27,187.40 L426.75,187.40 L426.75,185.81 L427.22,185.81 L427.22,184.32 L427.70,184.32 L427.70,181.18 L428.17,181.18 L428.17,175.44 L428.65,175.44 L428.65,175.71 L429.12,175.71 L429.12,183.78 L429.60,183.78 L429.60,175.17 L430.08,175.17 L430.08,174.80 L430.55,174.80 L430.55,179.47 L431.03,179.47 L431.03,181.68 L431.50,181.68 L431.50,185.14 L431.98,185.14 L431.98,191.51 L432.45,191.51 L432.45,192.44 L432.93,192.44 L432.93,197.05 L433.40,197.05 L433.40,199.96 L433.88,199.96 L433.88,198.99 L434.36,198.99 L434.36,199.56 L434.83,199.56 L434.83,195.16 L435.31,195.16 L435.31,196.05 L435.78,196.05 L435.78,194.62 L436.26,194.62 L436.26,190.29 L436.73,190.29 L436.73,188.98 L437.21,188.98 L437.21,177.96 L437.68,177.96 L437.68,166.67 L438.16,166.67 L438.16,158.51 L438.63,158.51 L438.63,147.62 L439.11,147.62 L439.11,131.14 L439.59,131.14 L439.59,118.61 L440.06,118.61 L440.06,99.77 L440.54,99.77 L440.54,100.95 L441.01,100.95 L441.01,97.28 L441.49,97.28 L441.49,75.20 L441.96,75.20 L441.96,86.30 L442.44,86.30 L442.44,93.14 L442.91,93.14 L442.91,106.82 L443.39,106.82 L443.39,113.86 L443.87,113.86 L443.87,139.36 L444.34,139.36 L444.34,160.65 L444.82,160.65 L444.82,163.90 L445.29,163.90 L445.29,174.79 L445.77,174.79 L445.77,185.52 L446.24,185.52 L446.24,187.68 L446.72,187.68 L446.72,194.44 L447.19,194.44 L447.19,197.59 L447.67,197.59 L447.67,198.96 L448.15,198.96 L448.14,196.98 L448.62,196.98 L448.62,203.03 L449.10,203.03 L449.10,200.93 L449.57,200.93 L449.57,201.50 L450.05,201.50 L450.05,202.06 L450.52,202.06 L450.52,201.53 L451.00,201.53 L451.00,202.07 L451.47,202.07 L451.47,199.37 L451.95,199.37 L451.95,201.00 L452.42,201.00 L452.42,200.46 L452.90,200.46 L452.90,202.08 L453.38,202.08 L453.38,201.54 L453.85,201.54 L453.85,201.00 L454.33,201.00 L454.33,199.92 L454.80,199.92 L454.80,202.08 L455.28,202.08 L455.28,201.55 L455.75,201.55 L455.75,199.93 L456.23,199.93 L456.23,199.93 L456.70,199.93 L456.70,202.09 L457.18,202.09 L457.18,201.01 L457.66,201.01 L457.65,200.47 L458.13,200.47 L458.13,201.55 L458.61,201.55 L458.61,200.47 L459.08,200.47 L459.08,200.46 L459.56,200.46 L459.56,198.29 L460.03,198.29 L460.03,200.97 L460.51,200.97 L460.51,199.85 L460.98,199.85 L460.98,200.88 L461.46,200.88 L461.46,198.63 L461.93,198.63 L461.93,199.59 L462.41,199.59 L462.41,197.80 L462.89,197.80 L462.89,197.03 L463.36,197.03 L463.36,195.11 L463.84,195.11 L463.84,194.19 L464.31,194.19 L464.31,190.73 L464.79,190.73 L464.79,184.90 L465.26,184.90 L465.26,183.66 L465.74,183.66 L465.74,183.53 L466.21,183.53 L466.21,170.53 L466.69,170.53 L466.69,172.56 L467.17,172.56 L467.17,161.20 L467.64,161.20 L467.64,164.49 L468.12,164.49 L468.12,165.87 L468.59,165.87 L468.59,160.00 L469.07,160.00 L469.07,160.89 L469.54,160.89 L469.54,170.43 L470.02,170.43 L470.02,176.11 L470.49,176.11 L470.49,173.95 L470.97,173.95 L470.97,175.72 L471.44,175.72 L471.44,182.20 L471.92,182.20 L471.92,184.48 L472.40,184.48 L472.40,190.71 L472.87,190.71 L472.87,192.21 L473.35,192.21 L473.35,196.34 L473.82,196.34 L473.82,197.70 L474.30,197.70 L474.30,198.99 L474.77,198.99 L474.77,200.22 L475.25,200.22 L475.25,200.87 L475.72,200.87 L475.72,199.32 L476.20,199.32 L476.20,202.07 L476.68,202.07 L476.68,202.10 L477.15,202.10 L477.15,202.12 L477.63,202.12 L477.63,198.90 L478.10,198.90 L478.10,201.60 L478.58,201.60 L478.58,203.23 L479.05,203.23 L479.05,200.53 L479.53,200.53 L479.53,199.99 L480.00,199.99 L480.00,200.54 L480.48,200.54 L480.48,202.16 L480.95,202.16 L480.95,201.08 L481.43,201.08 L481.43,202.16 L481.91,202.16 L481.91,202.70 L482.38,202.70 L482.38,200.00 L482.86,200.00 L482.86,200.54 L483.33,200.54 L483.33,202.70 L483.81,202.70 L483.81,200.01 L484.28,200.01 L484.28,203.79 L484.76,203.79 L484.76,202.17 L485.23,202.17 L485.23,203.79 L485.71,203.79 L485.71,202.71 L486.19,202.71 L486.19,202.71 L486.66,202.71 L486.66,201.09 L487.14,201.09 L487.14,202.17 L487.61,202.17 L487.61,202.71 L488.09,202.71 L488.09,202.72 L488.56,202.72 L488.56,202.18 L489.04,202.18 L489.04,200.56 L489.51,200.56 L489.51,201.64 L489.99,201.64 L489.99,203.26 L490.46,203.26 L490.46,201.10 L490.94,201.10 L490.94,201.64 L491.42,201.64 L491.42,202.18 L491.89,202.18 L491.89,201.65 L492.37,201.65 L492.37,201.65 L492.84,201.65 L492.84,200.57 L493.32,200.57 L493.32,201.65 L493.79,201.65 L493.79,201.65 L494.27,201.65 L494.27,202.19 L494.74,202.19 L494.74,201.65 L495.22,201.65 L495.22,202.19 L495.70,202.19 L495.69,202.19 L496.17,202.19 L496.17,201.66 L496.65,201.66 L496.65,201.12 L497.12,201.12 L497.12,202.74 L497.60,202.74 L497.60,200.04 L498.07,200.04 L498.07,202.20 L498.55,202.20 L498.55,200.58 L499.02,200.58 L499.02,201.12 L499.50,201.12 L499.50,199.50 L499.97,199.50 L499.97,201.66 L500.45,201.66 L500.45,202.21 L500.93,202.21 L500.93,202.21 L501.40,202.21 L501.40,201.67 L501.88,201.67 L501.88,201.13 L502.35,201.13 L502.35,200.59 L502.83,200.59 L502.83,203.29 L503.30,203.29 L503.30,203.29 L503.78,203.29 L503.78,203.29 L504.25,203.29 L504.25,203.29 L504.73,203.29 L504.73,203.83 L505.21,203.83 L505.21,204.38 L505.68,204.38 L505.68,202.76 L506.16,202.76 L506.16,203.30 L506.63,203.30 L506.63,201.68 L507.11,201.68 L507.11,201.68 L507.58,201.68 L507.58,199.52 L508.06,199.52 L508.06,200.06 L508.53,200.06 L508.53,201.13 L509.01,201.13 L509.01,200.05 L509.48,200.05 L509.48,203.82 L509.96,203.82 L509.96,202.73 L510.44,202.73 L510.44,200.02 L510.91,200.02 L510.91,201.62 L511.39,201.62 L511.39,202.67 L511.86,202.67 L511.86,200.48 L512.34,200.48 L512.34,200.97 L512.81,200.97 L512.81,200.38 L513.29,200.38 L513.29,200.86 L513.76,200.86 L513.76,200.79 L514.24,200.79 L514.24,201.26 L514.72,201.26 L514.72,198.49 L515.19,198.49 L515.19,195.18 L515.67,195.18 L515.67,193.49 L516.14,193.49 L516.14,196.14 L516.62,196.14 L516.62,194.48 L517.09,194.48 L517.09,197.70 L517.57,197.70 L517.57,198.23 L518.04,198.23 L518.04,194.47 L518.52,194.47 L518.52,197.20 L518.99,197.20 L518.99,196.71 L519.47,196.71 L519.47,201.63 L519.95,201.63 L519.95,200.08 L520.42,200.08 L520.42,199.07 L520.90,199.07 L520.90,198.61 L521.37,198.61 L521.37,198.68 L521.85,198.68 L521.85,199.29 L522.32,199.29 L522.32,201.50 L522.80,201.50 L522.80,201.55 L523.27,201.55 L523.27,199.98 L523.75,199.98 L523.75,198.39 L524.23,198.39 L524.23,202.19 L524.70,202.19 L524.70,202.75 L525.18,202.75 L525.18,201.69 L525.65,201.69 L525.65,202.24 L526.13,202.24 L526.13,202.79 L526.60,202.79 L526.60,202.79 L527.08,202.79 L527.08,202.80 L527.55,202.80 L527.55,202.26 L528.03,202.26 L528.03,203.34 L528.50,203.34 L528.50,202.26 L528.98,202.26 L528.98,200.10 L529.46,200.10 L529.46,201.72 L529.93,201.72 L529.93,202.81 L530.41,202.81 L530.41,202.81 L530.88,202.81 L530.88,203.35 L531.36,203.35 L531.36,201.73 L531.83,201.73 L531.83,202.27 L532.31,202.27 L532.31,203.35 L532.78,203.35 L532.78,202.27 L533.26,202.27 L533.26,202.27 L533.74,202.27 L533.74,202.27 L534.21,202.27 L534.21,202.81 L534.69,202.81 L534.69,202.81 L535.16,202.81 L535.16,202.82 L535.64,202.82 L535.64,199.04 L536.11,199.04 L536.11,202.82 L536.59,202.82 L536.59,202.28 L537.06,202.28 L537.06,202.82 L537.54,202.82 L537.54,203.36 L538.01,203.36 L538.01,202.82 L538.49,202.82 L538.49,203.36 L538.97,203.36 L538.97,202.82 L539.44,202.82 L539.44,202.82 L539.92,202.82 L539.92,202.82 L540.39,202.82 L540.39,200.66 L540.87,200.66 L540.87,202.83 L541.34,202.83 L541.34,202.83 L541.82,202.83 L541.82,202.29 L542.29,202.29 L542.29,202.83 L542.77,202.83 L542.77,202.29 L543.25,202.29 L543.25,202.29 L543.72,202.29 L543.72,203.91 L544.20,203.91 L544.20,202.29 L544.67,202.29 L544.67,203.91 L545.15,203.91 L545.15,203.37 L545.62,203.37 L545.62,201.75 L546.10,201.75 L546.10,199.59 L546.57,199.59 L546.57,202.30 L547.05,202.30 L547.05,203.38 L547.52,203.38 L547.52,202.84 L548.00,202.84 L548.00,203.38 L548.48,203.38 L548.48,201.76 L548.95,201.76 L548.95,203.38 L549.43,203.38 L549.43,203.38 L549.90,203.38 L549.90,202.30 L550.38,202.30 L550.38,202.30 L550.85,202.30 L550.85,202.30 L551.33,202.30 L551.33,202.84 L551.80,202.84 L551.80,200.68 L552.28,200.68 L552.28,202.84 L552.75,202.84 L552.75,200.69 L553.23,200.69 L553.23,202.85 L553.71,202.85 L553.71,202.85 L554.18,202.85 L554.18,202.85 L554.66,202.85 L554.66,202.31 L555.13,202.31 L555.13,201.77 L555.61,201.77 L555.61,203.39 L556.08,203.39 L556.08,202.85 L556.56,202.85 L556.56,202.31 L557.03,202.31 L557.03,202.85 L557.51,202.85 L557.51,202.31 L557.99,202.31 L557.99,202.31 L558.46,202.31 L558.46,202.31 L558.94,202.31 L558.94,202.86 L559.41,202.86 L559.41,203.40 L559.89,203.40 L559.89,204.48 L560.36,204.48 L560.36,201.24 L560.84,201.24 L560.84,201.78 L561.31,201.78 L561.31,202.86 L561.79,202.86 L561.79,200.70 L562.26,200.70 L562.26,201.24 L562.74,201.24 L562.74,203.94 L563.22,203.94 L563.22,201.78 L563.69,201.78 L563.69,202.86 L564.17,202.86 L564.17,203.40 L564.64,203.40 L564.64,203.40 L565.12,203.40 L565.12,202.86 L565.59,202.86 L565.59,203.95 L566.07,203.95 L566.07,203.95 L566.54,203.95 L566.54,203.95 L567.02,203.95 L567.02,203.41 L567.50,203.41 L567.50,203.95 L567.97,203.95 L567.97,203.95 L568.45,203.95 L568.45,201.79 L568.92,201.79 L568.92,202.87 L569.40,202.87 L569.40,202.87 L569.87,202.87 L569.87,202.33 L570.35,202.33 L570.35,201.25 L570.82,201.25 L570.82,203.95 L571.30,203.95 L571.30,203.41 L571.77,203.41 L571.77,201.79 L572.25,201.79 L572.25,201.25 L572.73,201.25 L572.73,201.26 L573.20,201.26 L573.20,202.88 L573.68,202.88 L573.68,203.42 L574.15,203.42 L574.15,203.42 L574.63,203.42 L574.63,201.26 L575.10,201.26 L575.10,202.34 L575.58,202.34 L575.58,202.88 L576.05,202.88 L576.05,201.80 L576.53,201.80 L576.53,203.42 L577.01,203.42 L577.01,202.88 L577.48,202.88 L577.48,201.26 L577.96,201.26 L577.96,203.96 L578.43,203.96 L578.43,202.88 L578.91,202.88 L578.91,203.42 L579.38,203.42 L579.38,201.80 L579.86,201.80 L579.86,201.81 L580.33,201.81 L580.33,202.35 L580.81,202.35 L580.81,202.89 L581.29,202.89 L581.28,204.51 L581.76,204.51 L581.76,202.89 L582.24,202.89 L582.24,203.43 L582.71,203.43 L582.71,203.43 L583.19,203.43 L583.19,203.97 L583.66,203.97 L583.66,201.27 L584.14,201.27 L584.14,202.89 L584.61,202.89 L584.61,202.89 L585.09,202.89 L585.09,201.81 L585.56,201.81 L585.56,201.81 L586.04,201.81 L586.04,202.89 L586.52,202.89 L586.52,202.89 L586.99,202.89 L586.99,201.81 L587.47,201.81 L587.47,203.44 L587.94,203.44 L587.94,201.82 L588.42,201.82 L588.42,204.52 L588.89,204.52 L588.89,202.36 L589.37,202.36 L589.37,202.90 L589.84,202.90 L589.84,202.90 L590.32,202.90 L590.32,200.20 L590.80,200.20 L590.79,203.44 L591.27,203.44 L591.27,203.44 L591.75,203.44 L591.75,202.36 L592.22,202.36 L592.22,202.36 L592.70,202.36 L592.70,202.90 L593.17,202.90 L593.17,202.36 L593.65,202.36 L593.65,202.36 L594.12,202.36 L594.12,201.82 L594.60,201.82 L594.60,202.90 L595.07,202.90 L595.07,203.44 L595.55,203.44 L595.55,203.45 L596.03,203.45 L596.03,203.99 L596.50,203.99 L596.50,203.99 L596.98,203.99 L596.98,204.53 L597.45,204.53 L597.45,200.75 L597.93,200.75 L597.93,203.99 L598.40,203.99 L598.40,202.91 L598.88,202.91 L598.88,203.99 L599.35,203.99 L599.35,201.29 L599.83,201.29 L599.83,202.91 L600.31,202.91 L600.31,203.99 L600.78,203.99 L600.78,202.37 L601.26,202.37 L601.26,201.83 L601.73,201.83 L601.73,200.75 L602.21,200.75 L602.21,203.99 L602.68,203.99 L602.68,203.45 L603.16,203.45 L603.16,202.91 L603.63,202.91 L603.63,203.46 L604.11,203.46 L604.11,202.92 L604.58,202.92 L604.58,202.38 L605.06,202.38 L605.06,202.38 L605.54,202.38 L605.54,202.38 L606.01,202.38 L606.01,202.38 L606.49,202.38 L606.49,203.46 L606.96,203.46 L606.96,202.38 L607.44,202.38 L607.44,203.46 L607.91,203.46 L607.91,204.00 L608.39,204.00 L608.39,204.54 L608.86,204.54 L608.86,202.92 L609.34,202.92 L609.34,203.46 L609.82,203.46 L609.82,204.00 L610.29,204.00 L610.29,203.46 L610.77,203.46 L610.77,203.46 L611.24,203.46 L611.24,203.46 L611.72,203.46 L611.72,202.92 L612.19,202.92 L612.19,202.92 L612.67,202.92 L612.67,202.93 L613.14,202.93 L613.14,200.77 L613.62,200.77 L613.62,201.85 L614.09,201.85 L614.09,203.47 L614.57,203.47 L614.57,201.85 L615.05,201.85 L615.05,203.47 L615.52,203.47 L615.52,201.85 L616.00,201.85 L616.00,204.55 L616.47,204.55 L616.47,203.47 L616.95,203.47 L616.95,201.85 L617.42,201.85 L617.42,202.93 L617.90,202.93 L617.90,202.93 L618.37,202.93 L618.37,204.01 L618.85,204.01 L618.85,204.01 L619.33,204.01 L619.33,201.31 L619.80,201.31 L619.80,204.55 L620.28,204.55 L620.28,204.01 L620.75,204.01 L620.75,203.47 L621.23,203.47 L621.23,202.39 L621.70,202.39 L621.70,202.93 L622.18,202.93 L622.18,200.24 L622.65,200.24 L622.65,202.40 L623.13,202.40 L623.13,203.48 L623.60,203.48 L623.60,201.86 L624.08,201.86 L624.08,203.48 L624.56,203.48 L624.56,204.56 L625.03,204.56 L625.03,201.32 L625.51,201.32 L625.51,202.40 L625.98,202.40 L625.98,202.94 L626.46,202.94 L626.46,203.48 L626.93,203.48 L626.93,204.02 L627.41,204.02 L627.41,204.02 L627.88,204.02 L627.88,204.56 L628.36,204.56 L628.36,204.02 L628.84,204.02 L628.84,203.48 L629.31,203.48 L629.31,201.86 L629.79,201.86 L629.79,201.86 L630.26,201.86 L630.26,203.48 L630.74,203.48 L630.74,202.94 L631.21,202.94 L631.21,203.48 L631.69,203.48 L631.69,202.40 L632.16,202.40 L632.16,202.94 L632.64,202.94 L632.64,201.33 L633.11,201.33 L633.11,202.41 L633.59,202.41 L633.59,202.95 L634.07,202.95 L634.07,202.95 L634.54,202.95 L634.54,204.03 L635.02,204.03 L635.02,203.49 L635.49,203.49 L635.49,203.49 L635.97,203.49 L635.97,204.03 L636.44,204.03 L636.44,204.03 L636.92,204.03 L636.92,203.49 L637.39,203.49 L637.39,204.03 L637.87,204.03 L637.87,202.95 L638.35,202.95 L638.35,203.49 L638.82,203.49 L638.82,201.33 L639.30,201.33 L639.30,202.95 L639.77,202.95 L639.77,203.49 L640.25,203.49 L640.25,203.49 L640.72,203.49 L640.72,203.49 L641.20,203.49 L641.20,204.03 L641.67,204.03 L641.67,201.87 L642.15,201.87 L642.15,201.87 L642.62,201.87 L642.62,202.95 L643.10,202.95 L643.10,202.95 L643.58,202.95 L643.58,204.04 L644.05,204.04 L644.05,203.50 L644.53,203.50 L644.53,204.04 L645.00,204.04 L645.00,203.50 L645.48,203.50 L645.48,202.96 L645.95,202.96 L645.95,204.04 L646.43,204.04 L646.43,204.04 L646.90,204.04 L646.90,202.96 L647.38,202.96 L647.38,203.50 L647.86,203.50 L647.86,202.42 L648.33,202.42 L648.33,204.04 L648.81,204.04 L648.81,204.58 L649.28,204.58 L649.28,201.88 L649.76,201.88 L649.76,202.96 L650.23,202.96 L650.23,202.96 L650.71,202.96 L650.71,203.50 L651.18,203.50 L651.18,204.04 L651.66,204.04 L651.66,201.34 L652.13,201.34 L652.13,203.50 L652.61,203.50 L652.61,202.42 L653.09,202.42 L653.09,204.04 L653.56,204.04 L653.56,204.04 L654.04,204.04 L654.04,203.50 L654.51,203.50 L654.51,204.04 L654.99,204.04 L654.99,202.43 L655.46,202.43 L655.46,204.05 L655.94,204.05 L655.94,204.59 L656.41,204.59 L656.41,204.05 L656.89,204.05 L656.89,204.05 L657.37,204.05 L657.37,201.89 L657.84,201.89 L657.84,202.43 L658.32,202.43 L658.32,202.97 L658.79,202.97 L658.79,203.51 L659.27,203.51 L659.27,204.59 L659.74,204.59 L659.74,202.43 L660.22,202.43 L660.22,204.05 L660.69,204.05 L660.69,204.05 L661.17,204.05 L661.17,203.51 L661.64,203.51 L661.64,202.43 L662.12,202.43 L662.12,204.05 L662.60,204.05 L662.60,204.59 L663.07,204.59 L663.07,202.43 L663.55,202.43 L663.55,204.59 L664.02,204.59 L664.02,202.97 L664.50,202.97 L664.50,204.05 L664.97,204.05 L664.97,204.05 L665.45,204.05 L665.45,204.05 L665.92,204.05 L665.92,203.51 L666.40,203.51 L666.40,202.43 L666.88,202.43 L666.88,202.43 L667.35,202.43 L667.35,203.51 L667.83,203.51 L667.83,204.60 L668.30,204.60 L668.30,204.06 L668.78,204.06 L668.78,204.06 L669.25,204.06 L669.25,202.98 L669.73,202.98 L669.73,202.44 L670.20,202.44 L670.20,204.60 L670.68,204.60 L670.68,204.06 L671.15,204.06 L671.15,201.90 L671.63,201.90 L671.63,204.06 L672.11,204.06 L672.11,204.60 L672.58,204.60 L672.58,204.06 L673.06,204.06 L673.06,202.44 L673.53,202.44 L673.53,204.06 L674.01,204.06 L674.01,202.98 L674.48,202.98 L674.48,204.60 L674.96,204.60 L674.96,202.98 L675.43,202.98 L675.43,204.06 L675.91,204.06 L675.91,203.52 L676.38,203.52 L676.38,202.98 L676.86,202.98 L676.86,202.44 L677.34,202.44 L677.34,203.52 L677.81,203.52 L677.81,201.36 L678.29,201.36 L678.29,203.52 L678.76,203.52 L678.76,201.90 L679.24,201.90 L679.24,202.44 L679.71,202.44 L679.71,200.82 L680.19,200.82 L680.19,204.60 L680.66,204.60 L680.66,204.06 L681.14,204.06 L681.14,202.98 L681.62,202.98 L681.62,202.45 L682.09,202.45 L682.09,204.07 L682.57,204.07 L682.57,202.99 L683.00,202.99 L683.00,204.8 Z" fill="#ff0000" stroke="none"/>
<line x1="356.4" y1="6.6" x2="356.4" y2="204.8" stroke="#5a5a5a" stroke-width="1"/>
<line x1="351.9" y1="6.6" x2="356.4" y2="6.6" stroke="#444" stroke-width="1"/>
<text transform="translate(339.30,9.40) scale(0.9,1)" text-anchor="start" font-family="'Liberation Sans', Arial, sans-serif" font-weight="bold" font-size="7.9" fill="#1c1c24" stroke="#1c1c24" stroke-width="0.18">312</text>
<line x1="351.9" y1="46.5" x2="356.4" y2="46.5" stroke="#444" stroke-width="1"/>
<text transform="translate(339.30,49.30) scale(0.9,1)" text-anchor="start" font-family="'Liberation Sans', Arial, sans-serif" font-weight="bold" font-size="7.9" fill="#1c1c24" stroke="#1c1c24" stroke-width="0.18">249</text>
<line x1="351.9" y1="86.1" x2="356.4" y2="86.1" stroke="#444" stroke-width="1"/>
<text transform="translate(339.30,88.90) scale(0.9,1)" text-anchor="start" font-family="'Liberation Sans', Arial, sans-serif" font-weight="bold" font-size="7.9" fill="#1c1c24" stroke="#1c1c24" stroke-width="0.18">187</text>
<line x1="351.9" y1="125.8" x2="356.4" y2="125.8" stroke="#444" stroke-width="1"/>
<text transform="translate(339.30,128.60) scale(0.9,1)" text-anchor="start" font-family="'Liberation Sans', Arial, sans-serif" font-weight="bold" font-size="7.9" fill="#1c1c24" stroke="#1c1c24" stroke-width="0.18">124</text>
<line x1="351.9" y1="165.6" x2="356.4" y2="165.6" stroke="#444" stroke-width="1"/>
<text transform="translate(339.30,168.40) scale(0.9,1)" text-anchor="start" font-family="'Liberation Sans', Arial, sans-serif" font-weight="bold" font-size="7.9" fill="#1c1c24" stroke="#1c1c24" stroke-width="0.18">62</text>
<line x1="351.9" y1="205.0" x2="356.4" y2="205.0" stroke="#444" stroke-width="1"/>
<text transform="translate(339.30,207.80) scale(0.9,1)" text-anchor="start" font-family="'Liberation Sans', Arial, sans-serif" font-weight="bold" font-size="7.9" fill="#1c1c24" stroke="#1c1c24" stroke-width="0.18">0</text>
<line x1="351.9" y1="205.10000000000002" x2="683" y2="205.10000000000002" stroke="#2a2a2a" stroke-width="1.6"/>
<line x1="381.6" y1="205.3" x2="381.6" y2="208.3" stroke="#444" stroke-width="1"/>
<text transform="translate(381.57,215.20) scale(0.9,1)" text-anchor="middle" font-family="'Liberation Sans', Arial, sans-serif" font-weight="bold" font-size="7.9" fill="#1c1c24" stroke="#1c1c24" stroke-width="0.18">0.50</text>
<line x1="405.4" y1="205.3" x2="405.4" y2="208.3" stroke="#444" stroke-width="1"/>
<text transform="translate(405.35,215.20) scale(0.9,1)" text-anchor="middle" font-family="'Liberation Sans', Arial, sans-serif" font-weight="bold" font-size="7.9" fill="#1c1c24" stroke="#1c1c24" stroke-width="0.18">1.00</text>
<line x1="429.1" y1="205.3" x2="429.1" y2="208.3" stroke="#444" stroke-width="1"/>
<text transform="translate(429.12,215.20) scale(0.9,1)" text-anchor="middle" font-family="'Liberation Sans', Arial, sans-serif" font-weight="bold" font-size="7.9" fill="#1c1c24" stroke="#1c1c24" stroke-width="0.18">1.50</text>
<line x1="452.9" y1="205.3" x2="452.9" y2="208.3" stroke="#444" stroke-width="1"/>
<text transform="translate(452.90,215.20) scale(0.9,1)" text-anchor="middle" font-family="'Liberation Sans', Arial, sans-serif" font-weight="bold" font-size="7.9" fill="#1c1c24" stroke="#1c1c24" stroke-width="0.18">2.00</text>
<line x1="476.7" y1="205.3" x2="476.7" y2="208.3" stroke="#444" stroke-width="1"/>
<text transform="translate(476.68,215.20) scale(0.9,1)" text-anchor="middle" font-family="'Liberation Sans', Arial, sans-serif" font-weight="bold" font-size="7.9" fill="#1c1c24" stroke="#1c1c24" stroke-width="0.18">2.50</text>
<line x1="500.4" y1="205.3" x2="500.4" y2="208.3" stroke="#444" stroke-width="1"/>
<text transform="translate(500.45,215.20) scale(0.9,1)" text-anchor="middle" font-family="'Liberation Sans', Arial, sans-serif" font-weight="bold" font-size="7.9" fill="#1c1c24" stroke="#1c1c24" stroke-width="0.18">3.00</text>
<line x1="524.2" y1="205.3" x2="524.2" y2="208.3" stroke="#444" stroke-width="1"/>
<text transform="translate(524.23,215.20) scale(0.9,1)" text-anchor="middle" font-family="'Liberation Sans', Arial, sans-serif" font-weight="bold" font-size="7.9" fill="#1c1c24" stroke="#1c1c24" stroke-width="0.18">3.50</text>
<line x1="548.0" y1="205.3" x2="548.0" y2="208.3" stroke="#444" stroke-width="1"/>
<text transform="translate(548.00,215.20) scale(0.9,1)" text-anchor="middle" font-family="'Liberation Sans', Arial, sans-serif" font-weight="bold" font-size="7.9" fill="#1c1c24" stroke="#1c1c24" stroke-width="0.18">4.00</text>
<line x1="571.8" y1="205.3" x2="571.8" y2="208.3" stroke="#444" stroke-width="1"/>
<text transform="translate(571.77,215.20) scale(0.9,1)" text-anchor="middle" font-family="'Liberation Sans', Arial, sans-serif" font-weight="bold" font-size="7.9" fill="#1c1c24" stroke="#1c1c24" stroke-width="0.18">4.50</text>
<line x1="595.5" y1="205.3" x2="595.5" y2="208.3" stroke="#444" stroke-width="1"/>
<text transform="translate(595.55,215.20) scale(0.9,1)" text-anchor="middle" font-family="'Liberation Sans', Arial, sans-serif" font-weight="bold" font-size="7.9" fill="#1c1c24" stroke="#1c1c24" stroke-width="0.18">5.00</text>
<line x1="619.3" y1="205.3" x2="619.3" y2="208.3" stroke="#444" stroke-width="1"/>
<text transform="translate(619.33,215.20) scale(0.9,1)" text-anchor="middle" font-family="'Liberation Sans', Arial, sans-serif" font-weight="bold" font-size="7.9" fill="#1c1c24" stroke="#1c1c24" stroke-width="0.18">5.50</text>
<line x1="643.1" y1="205.3" x2="643.1" y2="208.3" stroke="#444" stroke-width="1"/>
<text transform="translate(643.10,215.20) scale(0.9,1)" text-anchor="middle" font-family="'Liberation Sans', Arial, sans-serif" font-weight="bold" font-size="7.9" fill="#1c1c24" stroke="#1c1c24" stroke-width="0.18">6.00</text>
<line x1="666.9" y1="205.3" x2="666.9" y2="208.3" stroke="#444" stroke-width="1"/>
<text transform="translate(666.88,215.20) scale(0.9,1)" text-anchor="middle" font-family="'Liberation Sans', Arial, sans-serif" font-weight="bold" font-size="7.9" fill="#1c1c24" stroke="#1c1c24" stroke-width="0.18">6.50</text>
<text transform="translate(509.60,222.20) scale(0.94,1)" text-anchor="middle" font-family="'Liberation Sans', Arial, sans-serif" font-weight="bold" font-size="8.1" fill="#1c1c24" stroke="#1c1c24" stroke-width="0.18">Energy - keV</text>
<text transform="translate(383.30,112.10) scale(1.0,1)" text-anchor="middle" font-family="'Liberation Sans', Arial, sans-serif" font-weight="bold" font-size="7.9" fill="#1c1c24" stroke="#1c1c24" stroke-width="0.18">O</text>
<text transform="translate(422.00,176.60) scale(1.0,1)" text-anchor="middle" font-family="'Liberation Sans', Arial, sans-serif" font-weight="bold" font-size="7.9" fill="#1c1c24" stroke="#1c1c24" stroke-width="0.18">Mg</text>
<text transform="translate(431.20,169.00) scale(1.0,1)" text-anchor="middle" font-family="'Liberation Sans', Arial, sans-serif" font-weight="bold" font-size="7.9" fill="#1c1c24" stroke="#1c1c24" stroke-width="0.18">Al</text>
<text transform="translate(442.50,84.40) scale(1.0,1)" text-anchor="middle" font-family="'Liberation Sans', Arial, sans-serif" font-weight="bold" font-size="7.9" fill="#1c1c24" stroke="#1c1c24" stroke-width="0.18">Si</text>
<text transform="translate(469.20,153.50) scale(1.0,1)" text-anchor="middle" font-family="'Liberation Sans', Arial, sans-serif" font-weight="bold" font-size="7.9" fill="#1c1c24" stroke="#1c1c24" stroke-width="0.18">S</text>
<text transform="translate(517.20,190.50) scale(1.0,1)" text-anchor="middle" font-family="'Liberation Sans', Arial, sans-serif" font-weight="bold" font-size="7.9" fill="#1c1c24" stroke="#1c1c24" stroke-width="0.18">K</text>
<path d="M23.61,434.2 L23.61,434.20 L24.06,434.20 L24.06,434.20 L24.51,434.20 L24.51,434.20 L24.96,434.20 L24.96,434.20 L25.41,434.20 L25.41,434.20 L25.87,434.20 L25.87,434.20 L26.32,434.20 L26.32,434.20 L26.77,434.20 L26.77,434.20 L27.22,434.20 L27.22,434.20 L27.67,434.20 L27.67,434.17 L28.12,434.17 L28.12,434.01 L28.58,434.01 L28.58,433.95 L29.03,433.95 L29.03,433.79 L29.48,433.79 L29.48,433.63 L29.93,433.63 L29.93,433.14 L30.38,433.14 L30.38,433.17 L30.83,433.17 L30.83,433.51 L31.28,433.51 L31.28,432.98 L31.74,432.98 L31.74,432.72 L32.19,432.72 L32.19,431.47 L32.64,431.47 L32.64,430.91 L33.09,430.91 L33.09,430.21 L33.54,430.21 L33.54,429.42 L33.99,429.42 L33.99,429.03 L34.45,429.03 L34.45,428.11 L34.90,428.11 L34.90,428.49 L35.35,428.49 L35.35,429.50 L35.80,429.50 L35.80,428.90 L36.25,428.90 L36.25,429.91 L36.70,429.91 L36.70,429.98 L37.15,429.98 L37.15,430.66 L37.61,430.66 L37.61,430.97 L38.06,430.97 L38.06,431.11 L38.51,431.11 L38.51,430.96 L38.96,430.96 L38.96,430.82 L39.41,430.82 L39.41,430.45 L39.86,430.45 L39.86,428.25 L40.31,428.25 L40.31,426.49 L40.77,426.49 L40.77,422.77 L41.22,422.77 L41.22,420.45 L41.67,420.45 L41.67,416.03 L42.12,416.03 L42.12,409.50 L42.57,409.50 L42.57,405.08 L43.02,405.08 L43.02,395.51 L43.48,395.51 L43.47,389.23 L43.93,389.23 L43.93,384.27 L44.38,384.27 L44.38,379.34 L44.83,379.34 L44.83,375.00 L45.28,375.00 L45.28,376.29 L45.73,376.29 L45.73,377.64 L46.18,377.64 L46.18,381.62 L46.64,381.62 L46.64,388.86 L47.09,388.86 L47.09,397.36 L47.54,397.36 L47.54,402.96 L47.99,402.96 L47.99,410.68 L48.44,410.68 L48.44,416.51 L48.89,416.51 L48.89,421.36 L49.34,421.36 L49.34,424.50 L49.80,424.50 L49.80,427.87 L50.25,427.87 L50.25,428.44 L50.70,428.44 L50.70,428.94 L51.15,428.94 L51.15,430.71 L51.60,430.71 L51.60,430.67 L52.05,430.67 L52.05,430.54 L52.51,430.54 L52.50,431.97 L52.96,431.97 L52.96,431.78 L53.41,431.78 L53.41,431.05 L53.86,431.05 L53.86,430.95 L54.31,430.95 L54.31,431.27 L54.76,431.27 L54.76,431.80 L55.21,431.80 L55.21,431.48 L55.67,431.48 L55.67,430.95 L56.12,430.95 L56.12,430.85 L56.57,430.85 L56.57,431.06 L57.02,431.06 L57.02,431.80 L57.47,431.80 L57.47,430.95 L57.92,430.95 L57.92,431.59 L58.37,431.59 L58.37,431.17 L58.83,431.17 L58.83,431.91 L59.28,431.91 L59.28,430.53 L59.73,430.53 L59.73,431.27 L60.18,431.27 L60.18,431.17 L60.63,431.17 L60.63,431.70 L61.08,431.70 L61.08,431.27 L61.54,431.27 L61.53,431.38 L61.99,431.38 L61.99,431.27 L62.44,431.27 L62.44,431.59 L62.89,431.59 L62.89,431.17 L63.34,431.17 L63.34,431.59 L63.79,431.59 L63.79,431.59 L64.24,431.59 L64.24,431.80 L64.70,431.80 L64.70,431.17 L65.15,431.17 L65.15,431.91 L65.60,431.91 L65.60,431.70 L66.05,431.70 L66.05,432.02 L66.50,432.02 L66.50,431.27 L66.95,431.27 L66.95,431.38 L67.40,431.38 L67.40,431.38 L67.86,431.38 L67.86,432.12 L68.31,432.12 L68.31,431.48 L68.76,431.48 L68.76,431.59 L69.21,431.59 L69.21,431.91 L69.66,431.91 L69.66,432.44 L70.11,432.44 L70.11,430.10 L70.56,430.10 L70.56,431.91 L71.02,431.91 L71.02,431.59 L71.47,431.59 L71.47,431.70 L71.92,431.70 L71.92,431.27 L72.37,431.27 L72.37,432.02 L72.82,432.02 L72.82,431.48 L73.27,431.48 L73.27,431.59 L73.73,431.59 L73.73,430.95 L74.18,430.95 L74.18,432.34 L74.63,432.34 L74.63,431.59 L75.08,431.59 L75.08,431.38 L75.53,431.38 L75.53,430.53 L75.98,430.53 L75.98,431.38 L76.43,431.38 L76.43,431.48 L76.89,431.48 L76.89,431.27 L77.34,431.27 L77.34,431.59 L77.79,431.59 L77.79,432.12 L78.24,432.12 L78.24,431.38 L78.69,431.38 L78.69,430.85 L79.14,430.85 L79.14,431.17 L79.59,431.17 L79.59,431.70 L80.05,431.70 L80.05,431.17 L80.50,431.17 L80.50,430.95 L80.95,430.95 L80.95,431.70 L81.40,431.70 L81.40,431.27 L81.85,431.27 L81.85,431.59 L82.30,431.59 L82.30,431.70 L82.76,431.70 L82.76,431.70 L83.21,431.70 L83.21,431.80 L83.66,431.80 L83.66,431.59 L84.11,431.59 L84.11,432.11 L84.56,432.11 L84.56,431.47 L85.01,431.47 L85.01,431.88 L85.46,431.88 L85.46,431.01 L85.92,431.01 L85.92,431.10 L86.37,431.10 L86.37,432.24 L86.82,432.24 L86.82,430.71 L87.27,430.71 L87.27,431.42 L87.72,431.42 L87.72,430.96 L88.17,430.96 L88.17,430.71 L88.62,430.71 L88.62,430.90 L89.08,430.90 L89.08,430.99 L89.53,430.99 L89.53,430.78 L89.98,430.78 L89.98,431.22 L90.43,431.22 L90.43,430.29 L90.88,430.29 L90.88,431.38 L91.33,431.38 L91.33,430.56 L91.79,430.56 L91.79,431.32 L92.24,431.32 L92.24,431.20 L92.69,431.20 L92.69,430.93 L93.14,430.93 L93.14,431.33 L93.59,431.33 L93.59,430.43 L94.04,430.43 L94.04,428.93 L94.49,428.93 L94.49,427.03 L94.95,427.03 L94.95,423.25 L95.40,423.25 L95.40,417.95 L95.85,417.95 L95.85,416.43 L96.30,416.43 L96.30,406.87 L96.75,406.87 L96.75,399.11 L97.20,399.11 L97.20,384.22 L97.65,384.22 L97.66,373.23 L98.11,373.23 L98.11,355.00 L98.56,355.00 L98.56,342.63 L99.01,342.63 L99.01,331.92 L99.46,331.92 L99.46,324.14 L99.91,324.14 L99.91,310.41 L100.36,310.41 L100.36,300.80 L100.82,300.80 L100.82,307.17 L101.27,307.17 L101.27,309.11 L101.72,309.11 L101.72,318.72 L102.17,318.72 L102.17,330.91 L102.62,330.91 L102.62,341.92 L103.07,341.92 L103.07,360.55 L103.52,360.55 L103.52,372.20 L103.98,372.20 L103.98,385.90 L104.43,385.90 L104.43,395.88 L104.88,395.88 L104.88,407.58 L105.33,407.58 L105.33,413.49 L105.78,413.49 L105.78,420.72 L106.23,420.72 L106.23,424.38 L106.68,424.38 L106.69,427.01 L107.14,427.01 L107.14,428.41 L107.59,428.41 L107.59,429.47 L108.04,429.47 L108.04,431.33 L108.49,431.33 L108.49,431.60 L108.94,431.60 L108.94,431.36 L109.39,431.36 L109.39,431.09 L109.85,431.09 L109.85,431.54 L110.30,431.54 L110.30,431.77 L110.75,431.77 L110.75,430.82 L111.20,430.82 L111.20,431.89 L111.65,431.89 L111.65,432.10 L112.10,432.10 L112.10,432.21 L112.55,432.21 L112.55,432.32 L113.01,432.32 L113.01,431.36 L113.46,431.36 L113.46,432.11 L113.91,432.11 L113.91,431.37 L114.36,431.37 L114.36,431.15 L114.81,431.15 L114.81,430.09 L115.26,430.09 L115.26,431.26 L115.71,431.26 L115.72,431.80 L116.17,431.80 L116.17,431.59 L116.62,431.59 L116.62,431.27 L117.07,431.27 L117.07,431.48 L117.52,431.48 L117.52,431.91 L117.97,431.91 L117.97,431.38 L118.42,431.38 L118.42,432.13 L118.88,432.13 L118.88,431.91 L119.33,431.91 L119.33,430.53 L119.78,430.53 L119.78,431.70 L120.23,431.70 L120.23,431.92 L120.68,431.92 L120.68,431.39 L121.13,431.39 L121.13,431.82 L121.58,431.82 L121.58,432.67 L122.04,432.67 L122.04,432.46 L122.49,432.46 L122.49,431.93 L122.94,431.93 L122.94,431.93 L123.39,431.93 L123.39,431.08 L123.84,431.08 L123.84,432.04 L124.29,432.04 L124.29,431.29 L124.74,431.29 L124.75,431.30 L125.20,431.30 L125.20,431.83 L125.65,431.83 L125.65,430.66 L126.10,430.66 L126.10,431.51 L126.55,431.51 L126.55,431.73 L127.00,431.73 L127.00,432.05 L127.45,432.05 L127.45,431.84 L127.91,431.84 L127.91,431.20 L128.36,431.20 L128.36,431.73 L128.81,431.73 L128.81,432.05 L129.26,432.05 L129.26,431.95 L129.71,431.95 L129.71,431.84 L130.16,431.84 L130.16,432.16 L130.61,432.16 L130.61,431.74 L131.07,431.74 L131.07,432.49 L131.52,432.49 L131.52,431.42 L131.97,431.42 L131.97,432.17 L132.42,432.17 L132.42,432.28 L132.87,432.28 L132.87,431.75 L133.32,431.75 L133.32,431.96 L133.78,431.96 L133.78,431.33 L134.23,431.33 L134.23,431.86 L134.68,431.86 L134.68,431.75 L135.13,431.75 L135.13,431.44 L135.58,431.44 L135.58,432.18 L136.03,432.18 L136.03,431.55 L136.48,431.55 L136.48,431.65 L136.94,431.65 L136.94,431.87 L137.39,431.87 L137.39,431.12 L137.84,431.12 L137.84,432.51 L138.29,432.51 L138.29,431.45 L138.74,431.45 L138.74,432.30 L139.19,432.30 L139.19,431.45 L139.64,431.45 L139.64,432.19 L140.10,432.19 L140.10,432.41 L140.55,432.41 L140.55,431.88 L141.00,431.88 L141.00,431.24 L141.45,431.24 L141.45,432.09 L141.90,432.09 L141.90,431.88 L142.35,431.88 L142.35,431.78 L142.81,431.78 L142.81,432.10 L143.26,432.10 L143.26,431.89 L143.71,431.89 L143.71,432.74 L144.16,432.74 L144.16,432.00 L144.61,432.00 L144.61,431.57 L145.06,431.57 L145.06,432.11 L145.51,432.11 L145.51,432.21 L145.97,432.21 L145.97,432.53 L146.42,432.53 L146.42,431.68 L146.87,431.68 L146.87,432.00 L147.32,432.00 L147.32,431.37 L147.77,431.37 L147.77,431.69 L148.22,431.69 L148.22,432.43 L148.67,432.43 L148.67,431.37 L149.13,431.37 L149.13,431.37 L149.58,431.37 L149.58,431.59 L150.03,431.59 L150.03,431.59 L150.48,431.59 L150.48,431.80 L150.93,431.80 L150.93,431.70 L151.38,431.70 L151.38,431.80 L151.84,431.80 L151.84,431.91 L152.29,431.91 L152.29,432.23 L152.74,432.23 L152.74,432.34 L153.19,432.34 L153.19,431.70 L153.64,431.70 L153.64,431.92 L154.09,431.92 L154.09,432.56 L154.54,432.56 L154.54,431.81 L155.00,431.81 L155.00,431.92 L155.45,431.92 L155.45,431.92 L155.90,431.92 L155.90,431.71 L156.35,431.71 L156.35,431.50 L156.80,431.50 L156.80,432.14 L157.25,432.14 L157.25,431.61 L157.70,431.61 L157.70,432.04 L158.16,432.04 L158.16,431.93 L158.61,431.93 L158.61,432.04 L159.06,432.04 L159.06,431.40 L159.51,431.40 L159.51,432.04 L159.96,432.04 L159.96,431.30 L160.41,431.30 L160.41,432.15 L160.87,432.15 L160.87,431.83 L161.32,431.83 L161.32,431.51 L161.77,431.51 L161.77,431.83 L162.22,431.83 L162.22,432.16 L162.67,432.16 L162.67,432.48 L163.12,432.48 L163.12,432.05 L163.57,432.05 L163.57,432.16 L164.03,432.16 L164.03,431.73 L164.48,431.73 L164.48,431.74 L164.93,431.74 L164.93,431.10 L165.38,431.10 L165.38,432.06 L165.83,432.06 L165.83,432.17 L166.28,432.17 L166.28,431.95 L166.73,431.95 L166.73,431.85 L167.19,431.85 L167.19,432.59 L167.64,432.59 L167.64,432.38 L168.09,432.38 L168.09,432.49 L168.54,432.49 L168.54,432.28 L168.99,432.28 L168.99,432.28 L169.44,432.28 L169.44,431.32 L169.90,431.32 L169.90,432.39 L170.35,432.39 L170.35,431.54 L170.80,431.54 L170.80,432.29 L171.25,432.29 L171.25,432.39 L171.70,432.39 L171.70,431.33 L172.15,431.33 L172.15,432.61 L172.60,432.61 L172.60,432.50 L173.06,432.50 L173.06,432.50 L173.51,432.50 L173.51,432.61 L173.96,432.61 L173.96,432.19 L174.41,432.19 L174.41,432.40 L174.86,432.40 L174.86,432.51 L175.31,432.51 L175.31,432.83 L175.76,432.83 L175.76,431.98 L176.22,431.98 L176.22,432.73 L176.67,432.73 L176.67,432.41 L177.12,432.41 L177.12,432.09 L177.57,432.09 L177.57,431.67 L178.02,431.67 L178.02,431.99 L178.47,431.99 L178.47,431.99 L178.93,431.99 L178.93,431.99 L179.38,431.99 L179.38,431.88 L179.83,431.88 L179.83,431.78 L180.28,431.78 L180.28,432.52 L180.73,432.52 L180.73,432.74 L181.18,432.74 L181.18,431.99 L181.63,431.99 L181.63,432.10 L182.09,432.10 L182.09,432.10 L182.54,432.10 L182.54,431.89 L182.99,431.89 L182.99,432.53 L183.44,432.53 L183.44,432.00 L183.89,432.00 L183.89,432.21 L184.34,432.21 L184.34,432.21 L184.79,432.21 L184.79,432.43 L185.25,432.43 L185.25,432.43 L185.70,432.43 L185.70,432.11 L186.15,432.11 L186.15,432.11 L186.60,432.11 L186.60,431.69 L187.05,431.69 L187.05,432.43 L187.50,432.43 L187.50,432.01 L187.96,432.01 L187.96,432.65 L188.41,432.65 L188.41,432.01 L188.86,432.01 L188.86,432.55 L189.31,432.55 L189.31,431.80 L189.76,431.80 L189.76,431.48 L190.21,431.48 L190.21,432.44 L190.66,432.44 L190.66,431.91 L191.12,431.91 L191.12,432.44 L191.57,432.44 L191.57,432.45 L192.02,432.45 L192.02,432.66 L192.47,432.66 L192.47,432.23 L192.92,432.23 L192.92,432.66 L193.37,432.66 L193.37,432.02 L193.82,432.02 L193.82,432.13 L194.28,432.13 L194.28,432.35 L194.73,432.35 L194.73,432.03 L195.18,432.03 L195.18,432.45 L195.63,432.45 L195.63,432.35 L196.08,432.35 L196.08,432.35 L196.53,432.35 L196.53,433.10 L196.99,433.10 L196.99,431.82 L197.44,431.82 L197.44,432.67 L197.89,432.67 L197.89,432.67 L198.34,432.67 L198.34,431.93 L198.79,431.93 L198.79,431.93 L199.24,431.93 L199.24,432.36 L199.69,432.36 L199.69,432.36 L200.15,432.36 L200.15,432.68 L200.60,432.68 L200.60,433.21 L201.05,433.21 L201.05,432.26 L201.50,432.26 L201.50,432.47 L201.95,432.47 L201.95,432.58 L202.40,432.58 L202.40,431.83 L202.85,431.83 L202.85,432.90 L203.31,432.90 L203.31,432.37 L203.76,432.37 L203.76,432.05 L204.21,432.05 L204.21,432.05 L204.66,432.05 L204.66,432.69 L205.11,432.69 L205.11,432.05 L205.56,432.05 L205.56,432.27 L206.02,432.27 L206.02,432.16 L206.47,432.16 L206.47,431.74 L206.92,431.74 L206.92,432.06 L207.37,432.06 L207.37,432.27 L207.82,432.27 L207.82,432.06 L208.27,432.06 L208.27,432.38 L208.72,432.38 L208.72,432.27 L209.18,432.27 L209.18,431.96 L209.63,431.96 L209.63,432.28 L210.08,432.28 L210.08,432.49 L210.53,432.49 L210.53,432.92 L210.98,432.92 L210.98,432.07 L211.43,432.07 L211.43,432.49 L211.88,432.49 L211.88,432.39 L212.34,432.39 L212.34,432.49 L212.79,432.49 L212.79,432.28 L213.24,432.28 L213.24,432.39 L213.69,432.39 L213.69,431.97 L214.14,431.97 L214.14,432.29 L214.59,432.29 L214.59,432.29 L215.05,432.29 L215.05,432.07 L215.50,432.07 L215.50,432.40 L215.95,432.40 L215.95,432.29 L216.40,432.29 L216.40,432.08 L216.85,432.08 L216.85,432.19 L217.30,432.19 L217.30,432.19 L217.75,432.19 L217.75,431.97 L218.21,431.97 L218.21,432.29 L218.66,432.29 L218.66,432.30 L219.11,432.30 L219.11,432.72 L219.56,432.72 L219.56,432.62 L220.01,432.62 L220.01,432.40 L220.46,432.40 L220.46,432.41 L220.91,432.41 L220.91,431.98 L221.37,431.98 L221.37,432.94 L221.82,432.94 L221.82,432.52 L222.27,432.52 L222.27,432.20 L222.72,432.20 L222.72,432.41 L223.17,432.41 L223.17,431.99 L223.62,431.99 L223.62,432.73 L224.08,432.73 L224.08,432.20 L224.53,432.20 L224.53,432.52 L224.98,432.52 L224.98,432.31 L225.43,432.31 L225.43,432.95 L225.88,432.95 L225.88,432.52 L226.33,432.52 L226.33,432.10 L226.78,432.10 L226.78,432.21 L227.24,432.21 L227.24,432.42 L227.69,432.42 L227.69,432.53 L228.14,432.53 L228.14,432.95 L228.59,432.95 L228.59,432.21 L229.04,432.21 L229.04,432.53 L229.49,432.53 L229.49,432.21 L229.94,432.21 L229.94,432.32 L230.40,432.32 L230.40,432.53 L230.85,432.53 L230.85,432.00 L231.30,432.00 L231.30,432.75 L231.75,432.75 L231.75,431.79 L232.20,431.79 L232.20,432.86 L232.65,432.86 L232.65,431.79 L233.11,431.79 L233.11,432.43 L233.56,432.43 L233.56,432.54 L234.01,432.54 L234.01,431.90 L234.46,431.90 L234.46,432.44 L234.91,432.44 L234.91,432.44 L235.36,432.44 L235.36,432.97 L235.81,432.97 L235.81,432.23 L236.27,432.23 L236.27,432.33 L236.72,432.33 L236.72,432.65 L237.17,432.65 L237.17,432.87 L237.62,432.87 L237.62,432.55 L238.07,432.55 L238.07,431.91 L238.52,431.91 L238.52,432.12 L238.97,432.12 L238.97,432.55 L239.43,432.55 L239.43,432.98 L239.88,432.98 L239.88,432.13 L240.33,432.13 L240.33,432.77 L240.78,432.77 L240.78,432.24 L241.23,432.24 L241.23,432.45 L241.68,432.45 L241.68,431.81 L242.14,431.81 L242.14,432.88 L242.59,432.88 L242.59,432.24 L243.04,432.24 L243.04,432.35 L243.49,432.35 L243.49,433.09 L243.94,433.09 L243.94,432.45 L244.39,432.45 L244.39,432.67 L244.84,432.67 L244.84,432.35 L245.30,432.35 L245.30,431.93 L245.75,431.93 L245.75,432.35 L246.20,432.35 L246.20,432.57 L246.65,432.57 L246.65,432.46 L247.10,432.46 L247.10,432.78 L247.55,432.78 L247.55,432.57 L248.00,432.57 L248.00,432.89 L248.46,432.89 L248.46,432.36 L248.91,432.36 L248.91,433.00 L249.36,433.00 L249.36,432.46 L249.81,432.46 L249.81,432.78 L250.26,432.78 L250.26,432.47 L250.71,432.47 L250.71,433.00 L251.17,433.00 L251.17,433.11 L251.62,433.11 L251.62,432.47 L252.07,432.47 L252.07,432.36 L252.52,432.36 L252.52,432.15 L252.97,432.15 L252.97,432.37 L253.42,432.37 L253.42,431.62 L253.87,431.62 L253.87,432.90 L254.33,432.90 L254.33,432.47 L254.78,432.47 L254.78,432.48 L255.23,432.48 L255.23,432.90 L255.68,432.90 L255.68,432.90 L256.13,432.90 L256.13,432.80 L256.58,432.80 L256.58,432.58 L257.03,432.58 L257.03,432.27 L257.49,432.27 L257.49,432.37 L257.94,432.37 L257.94,432.48 L258.39,432.48 L258.39,433.01 L258.84,433.01 L258.84,432.38 L259.29,432.38 L259.29,432.59 L259.74,432.59 L259.74,432.91 L260.19,432.91 L260.19,432.49 L260.65,432.49 L260.65,432.81 L261.10,432.81 L261.10,432.70 L261.55,432.70 L261.55,432.59 L262.00,432.59 L262.00,432.38 L262.45,432.38 L262.45,433.02 L262.90,433.02 L262.90,432.60 L263.36,432.60 L263.36,432.81 L263.81,432.81 L263.81,432.49 L264.26,432.49 L264.26,432.28 L264.71,432.28 L264.71,432.81 L265.16,432.81 L265.16,432.39 L265.61,432.39 L265.61,432.60 L266.06,432.60 L266.06,432.81 L266.52,432.81 L266.52,432.82 L266.97,432.82 L266.97,432.60 L267.42,432.60 L267.42,432.29 L267.87,432.29 L267.87,432.50 L268.32,432.50 L268.32,433.46 L268.77,433.46 L268.77,432.39 L269.23,432.39 L269.23,432.61 L269.68,432.61 L269.68,432.71 L270.13,432.71 L270.13,432.82 L270.58,432.82 L270.58,432.72 L271.03,432.72 L271.03,432.50 L271.48,432.50 L271.48,432.82 L271.93,432.82 L271.93,432.93 L272.39,432.93 L272.39,432.29 L272.84,432.29 L272.84,432.72 L273.29,432.72 L273.29,433.04 L273.74,433.04 L273.74,432.19 L274.19,432.19 L274.19,433.04 L274.64,433.04 L274.64,432.72 L275.09,432.72 L275.09,432.51 L275.55,432.51 L275.55,432.51 L276.00,432.51 L276.00,432.19 L276.45,432.19 L276.45,432.94 L276.90,432.94 L276.90,432.62 L277.35,432.62 L277.35,432.30 L277.80,432.30 L277.80,432.73 L278.25,432.73 L278.25,432.52 L278.71,432.52 L278.71,432.73 L279.16,432.73 L279.16,432.52 L279.61,432.52 L279.61,432.09 L280.06,432.09 L280.06,432.84 L280.51,432.84 L280.51,432.52 L280.96,432.52 L280.96,432.84 L281.42,432.84 L281.42,432.31 L281.87,432.31 L281.87,432.42 L282.32,432.42 L282.32,432.31 L282.77,432.31 L282.77,432.31 L283.22,432.31 L283.22,432.63 L283.67,432.63 L283.67,432.10 L284.12,432.10 L284.12,432.95 L284.58,432.95 L284.58,432.63 L285.03,432.63 L285.03,433.06 L285.48,433.06 L285.48,432.64 L285.93,432.64 L285.93,432.53 L286.38,432.53 L286.38,432.85 L286.83,432.85 L286.83,432.42 L287.28,432.42 L287.28,432.74 L287.74,432.74 L287.74,432.96 L288.19,432.96 L288.19,432.96 L288.64,432.96 L288.64,432.64 L289.09,432.64 L289.09,432.85 L289.54,432.85 L289.54,433.17 L289.99,433.17 L289.99,432.86 L290.45,432.86 L290.45,432.00 L290.90,432.00 L290.90,432.75 L291.35,432.75 L291.35,432.54 L291.80,432.54 L291.80,432.75 L292.25,432.75 L292.25,433.18 L292.70,433.18 L292.70,432.65 L293.15,432.65 L293.15,432.97 L293.61,432.97 L293.61,433.07 L294.06,433.07 L294.06,432.65 L294.51,432.65 L294.51,432.54 L294.96,432.54 L294.96,433.29 L295.41,433.29 L295.41,432.23 L295.86,432.23 L295.86,433.29 L296.31,433.29 L296.31,432.97 L296.77,432.97 L296.77,432.87 L297.22,432.87 L297.22,432.44 L297.67,432.44 L297.67,432.55 L298.12,432.55 L298.12,432.55 L298.57,432.55 L298.57,432.76 L299.02,432.76 L299.02,432.34 L299.48,432.34 L299.48,433.08 L299.93,433.08 L299.93,432.13 L300.38,432.13 L300.38,433.19 L300.83,433.19 L300.83,433.08 L301.28,433.08 L301.28,432.55 L301.73,432.55 L301.73,432.55 L302.18,432.55 L302.18,432.66 L302.64,432.66 L302.64,432.98 L303.09,432.98 L303.09,432.45 L303.54,432.45 L303.54,432.77 L303.99,432.77 L303.99,432.98 L304.44,432.98 L304.44,433.09 L304.89,433.09 L304.89,432.03 L305.34,432.03 L305.34,433.20 L305.80,433.20 L305.80,432.99 L306.25,432.99 L306.25,432.88 L306.70,432.88 L306.70,432.35 L307.15,432.35 L307.15,432.46 L307.60,432.46 L307.60,432.46 L308.05,432.46 L308.05,432.67 L308.51,432.67 L308.51,433.42 L308.96,433.42 L308.96,432.56 L309.41,432.56 L309.41,432.99 L309.86,432.99 L309.86,432.25 L310.31,432.25 L310.31,432.14 L310.76,432.14 L310.76,433.21 L311.21,433.21 L311.21,432.57 L311.67,432.57 L311.67,432.99 L312.12,432.99 L312.12,433.10 L312.57,433.10 L312.57,432.46 L313.02,432.46 L313.02,432.89 L313.47,432.89 L313.47,433.00 L313.92,433.00 L313.92,432.78 L314.38,432.78 L314.38,433.21 L314.83,433.21 L314.83,432.89 L315.28,432.89 L315.28,432.68 L315.73,432.68 L315.73,432.47 L316.18,432.47 L316.18,433.11 L316.63,433.11 L316.63,432.47 L317.08,432.47 L317.08,433.21 L317.54,433.21 L317.54,433.00 L317.99,433.00 L317.99,432.90 L318.44,432.90 L318.44,433.11 L318.89,433.11 L318.89,433.22 L319.34,433.22 L319.34,432.69 L319.79,432.69 L319.79,432.90 L320.24,432.90 L320.24,433.11 L320.70,433.11 L320.70,432.79 L321.15,432.79 L321.15,433.11 L321.60,433.11 L321.60,432.69 L322.05,432.69 L322.05,432.26 L322.50,432.26 L322.50,432.90 L322.95,432.90 L322.95,432.90 L323.40,432.90 L323.40,432.90 L323.86,432.90 L323.86,432.91 L324.31,432.91 L324.31,432.91 L324.76,432.91 L324.76,433.12 L325.21,433.12 L325.21,433.01 L325.66,433.01 L325.66,432.69 L326.11,432.69 L326.11,432.91 L326.57,432.91 L326.57,433.23 L327.02,433.23 L327.02,433.12 L327.47,433.12 L327.47,432.59 L327.92,432.59 L327.92,433.02 L328.37,433.02 L328.37,432.59 L328.82,432.59 L328.82,432.81 L329.27,432.81 L329.27,432.81 L329.73,432.81 L329.73,433.02 L330.18,433.02 L330.18,432.81 L330.50,432.81 L330.50,434.2 Z" fill="#ff0000" stroke="none"/>
<line x1="20.0" y1="239.2" x2="20.0" y2="434.2" stroke="#5a5a5a" stroke-width="1"/>
<line x1="15.5" y1="239.2" x2="20.0" y2="239.2" stroke="#444" stroke-width="1"/>
<text transform="translate(0.80,242.00) scale(0.9,1)" text-anchor="start" font-family="'Liberation Sans', Arial, sans-serif" font-weight="bold" font-size="7.9" fill="#1c1c24" stroke="#1c1c24" stroke-width="0.18">1.1</text>
<line x1="15.5" y1="278.3" x2="20.0" y2="278.3" stroke="#444" stroke-width="1"/>
<text transform="translate(0.80,281.10) scale(0.9,1)" text-anchor="start" font-family="'Liberation Sans', Arial, sans-serif" font-weight="bold" font-size="7.9" fill="#1c1c24" stroke="#1c1c24" stroke-width="0.18">0.9</text>
<line x1="15.5" y1="317.0" x2="20.0" y2="317.0" stroke="#444" stroke-width="1"/>
<text transform="translate(0.80,319.80) scale(0.9,1)" text-anchor="start" font-family="'Liberation Sans', Arial, sans-serif" font-weight="bold" font-size="7.9" fill="#1c1c24" stroke="#1c1c24" stroke-width="0.18">0.6</text>
<line x1="15.5" y1="356.4" x2="20.0" y2="356.4" stroke="#444" stroke-width="1"/>
<text transform="translate(0.80,359.20) scale(0.9,1)" text-anchor="start" font-family="'Liberation Sans', Arial, sans-serif" font-weight="bold" font-size="7.9" fill="#1c1c24" stroke="#1c1c24" stroke-width="0.18">0.4</text>
<line x1="15.5" y1="395.7" x2="20.0" y2="395.7" stroke="#444" stroke-width="1"/>
<text transform="translate(0.80,398.50) scale(0.9,1)" text-anchor="start" font-family="'Liberation Sans', Arial, sans-serif" font-weight="bold" font-size="7.9" fill="#1c1c24" stroke="#1c1c24" stroke-width="0.18">0.2</text>
<line x1="15.5" y1="434.2" x2="20.0" y2="434.2" stroke="#444" stroke-width="1"/>
<text transform="translate(0.80,437.00) scale(0.9,1)" text-anchor="start" font-family="'Liberation Sans', Arial, sans-serif" font-weight="bold" font-size="7.9" fill="#1c1c24" stroke="#1c1c24" stroke-width="0.18">0.0</text>
<line x1="15.5" y1="434.5" x2="330.5" y2="434.5" stroke="#2a2a2a" stroke-width="1.6"/>
<line x1="43.5" y1="434.7" x2="43.5" y2="437.7" stroke="#444" stroke-width="1"/>
<text transform="translate(43.47,443.70) scale(0.9,1)" text-anchor="middle" font-family="'Liberation Sans', Arial, sans-serif" font-weight="bold" font-size="7.9" fill="#1c1c24" stroke="#1c1c24" stroke-width="0.18">0.50</text>
<line x1="66.0" y1="434.7" x2="66.0" y2="437.7" stroke="#444" stroke-width="1"/>
<text transform="translate(66.05,443.70) scale(0.9,1)" text-anchor="middle" font-family="'Liberation Sans', Arial, sans-serif" font-weight="bold" font-size="7.9" fill="#1c1c24" stroke="#1c1c24" stroke-width="0.18">1.00</text>
<line x1="88.6" y1="434.7" x2="88.6" y2="437.7" stroke="#444" stroke-width="1"/>
<text transform="translate(88.62,443.70) scale(0.9,1)" text-anchor="middle" font-family="'Liberation Sans', Arial, sans-serif" font-weight="bold" font-size="7.9" fill="#1c1c24" stroke="#1c1c24" stroke-width="0.18">1.50</text>
<line x1="111.2" y1="434.7" x2="111.2" y2="437.7" stroke="#444" stroke-width="1"/>
<text transform="translate(111.20,443.70) scale(0.9,1)" text-anchor="middle" font-family="'Liberation Sans', Arial, sans-serif" font-weight="bold" font-size="7.9" fill="#1c1c24" stroke="#1c1c24" stroke-width="0.18">2.00</text>
<line x1="133.8" y1="434.7" x2="133.8" y2="437.7" stroke="#444" stroke-width="1"/>
<text transform="translate(133.78,443.70) scale(0.9,1)" text-anchor="middle" font-family="'Liberation Sans', Arial, sans-serif" font-weight="bold" font-size="7.9" fill="#1c1c24" stroke="#1c1c24" stroke-width="0.18">2.50</text>
<line x1="156.3" y1="434.7" x2="156.3" y2="437.7" stroke="#444" stroke-width="1"/>
<text transform="translate(156.35,443.70) scale(0.9,1)" text-anchor="middle" font-family="'Liberation Sans', Arial, sans-serif" font-weight="bold" font-size="7.9" fill="#1c1c24" stroke="#1c1c24" stroke-width="0.18">3.00</text>
<line x1="178.9" y1="434.7" x2="178.9" y2="437.7" stroke="#444" stroke-width="1"/>
<text transform="translate(178.93,443.70) scale(0.9,1)" text-anchor="middle" font-family="'Liberation Sans', Arial, sans-serif" font-weight="bold" font-size="7.9" fill="#1c1c24" stroke="#1c1c24" stroke-width="0.18">3.50</text>
<line x1="201.5" y1="434.7" x2="201.5" y2="437.7" stroke="#444" stroke-width="1"/>
<text transform="translate(201.50,443.70) scale(0.9,1)" text-anchor="middle" font-family="'Liberation Sans', Arial, sans-serif" font-weight="bold" font-size="7.9" fill="#1c1c24" stroke="#1c1c24" stroke-width="0.18">4.00</text>
<line x1="224.1" y1="434.7" x2="224.1" y2="437.7" stroke="#444" stroke-width="1"/>
<text transform="translate(224.07,443.70) scale(0.9,1)" text-anchor="middle" font-family="'Liberation Sans', Arial, sans-serif" font-weight="bold" font-size="7.9" fill="#1c1c24" stroke="#1c1c24" stroke-width="0.18">4.50</text>
<line x1="246.7" y1="434.7" x2="246.7" y2="437.7" stroke="#444" stroke-width="1"/>
<text transform="translate(246.65,443.70) scale(0.9,1)" text-anchor="middle" font-family="'Liberation Sans', Arial, sans-serif" font-weight="bold" font-size="7.9" fill="#1c1c24" stroke="#1c1c24" stroke-width="0.18">5.00</text>
<line x1="269.2" y1="434.7" x2="269.2" y2="437.7" stroke="#444" stroke-width="1"/>
<text transform="translate(269.22,443.70) scale(0.9,1)" text-anchor="middle" font-family="'Liberation Sans', Arial, sans-serif" font-weight="bold" font-size="7.9" fill="#1c1c24" stroke="#1c1c24" stroke-width="0.18">5.50</text>
<line x1="291.8" y1="434.7" x2="291.8" y2="437.7" stroke="#444" stroke-width="1"/>
<text transform="translate(291.80,443.70) scale(0.9,1)" text-anchor="middle" font-family="'Liberation Sans', Arial, sans-serif" font-weight="bold" font-size="7.9" fill="#1c1c24" stroke="#1c1c24" stroke-width="0.18">6.00</text>
<line x1="314.4" y1="434.7" x2="314.4" y2="437.7" stroke="#444" stroke-width="1"/>
<text transform="translate(314.37,443.70) scale(0.9,1)" text-anchor="middle" font-family="'Liberation Sans', Arial, sans-serif" font-weight="bold" font-size="7.9" fill="#1c1c24" stroke="#1c1c24" stroke-width="0.18">6.50</text>
<text transform="translate(165.20,450.40) scale(0.94,1)" text-anchor="middle" font-family="'Liberation Sans', Arial, sans-serif" font-weight="bold" font-size="8.1" fill="#1c1c24" stroke="#1c1c24" stroke-width="0.18">Energy - keV</text>
<text transform="translate(34.40,422.60) scale(1.0,1)" text-anchor="middle" font-family="'Liberation Sans', Arial, sans-serif" font-weight="bold" font-size="7.9" fill="#1c1c24" stroke="#1c1c24" stroke-width="0.18">C</text>
<text transform="translate(45.50,374.90) scale(1.0,1)" text-anchor="middle" font-family="'Liberation Sans', Arial, sans-serif" font-weight="bold" font-size="7.9" fill="#1c1c24" stroke="#1c1c24" stroke-width="0.18">O</text>
<text transform="translate(90.60,424.40) scale(1.0,1)" text-anchor="middle" font-family="'Liberation Sans', Arial, sans-serif" font-weight="bold" font-size="7.9" fill="#1c1c24" stroke="#1c1c24" stroke-width="0.18">Al</text>
<text transform="translate(101.80,299.80) scale(1.0,1)" text-anchor="middle" font-family="'Liberation Sans', Arial, sans-serif" font-weight="bold" font-size="7.9" fill="#1c1c24" stroke="#1c1c24" stroke-width="0.18">Si</text>
<path d="M361.60,434.4 L361.60,434.40 L362.08,434.40 L362.08,434.40 L362.56,434.40 L362.56,434.40 L363.03,434.40 L363.03,434.40 L363.51,434.40 L363.51,434.39 L363.98,434.39 L363.98,434.36 L364.46,434.36 L364.46,433.80 L364.93,433.80 L364.93,433.77 L365.41,433.77 L365.41,433.74 L365.88,433.74 L365.88,433.16 L366.36,433.16 L366.36,433.09 L366.83,433.09 L366.83,431.36 L367.31,431.36 L367.31,431.38 L367.79,431.38 L367.79,428.24 L368.26,428.24 L368.26,419.60 L368.74,419.60 L368.74,413.77 L369.21,413.77 L369.21,401.71 L369.69,401.71 L369.69,379.41 L370.16,379.41 L370.16,359.85 L370.64,359.85 L370.64,343.66 L371.11,343.66 L371.11,317.97 L371.59,317.97 L371.59,302.15 L372.06,302.15 L372.06,304.67 L372.54,304.67 L372.54,302.10 L373.02,302.10 L373.02,324.19 L373.49,324.19 L373.49,340.26 L373.97,340.26 L373.97,366.18 L374.44,366.18 L374.44,384.29 L374.92,384.29 L374.92,392.98 L375.39,392.98 L375.39,412.06 L375.87,412.06 L375.87,415.79 L376.34,415.79 L376.34,425.36 L376.82,425.36 L376.82,427.54 L377.30,427.54 L377.30,428.00 L377.77,428.00 L377.77,429.13 L378.25,429.13 L378.25,430.73 L378.72,430.73 L378.72,429.09 L379.20,429.09 L379.20,428.50 L379.67,428.50 L379.67,429.50 L380.15,429.50 L380.15,429.43 L380.62,429.43 L380.62,426.16 L381.10,426.16 L381.10,427.16 L381.58,427.16 L381.57,427.91 L382.05,427.91 L382.05,426.81 L382.53,426.81 L382.53,427.46 L383.00,427.46 L383.00,425.29 L383.48,425.29 L383.48,426.54 L383.95,426.54 L383.95,428.45 L384.43,428.45 L384.43,426.09 L384.90,426.09 L384.90,429.10 L385.38,429.10 L385.38,428.63 L385.85,428.63 L385.85,430.57 L386.33,430.57 L386.33,428.24 L386.81,428.24 L386.81,430.71 L387.28,430.71 L387.28,429.69 L387.76,429.69 L387.76,431.34 L388.23,431.34 L388.23,430.31 L388.71,430.31 L388.71,430.08 L389.18,430.08 L389.18,430.63 L389.66,430.63 L389.66,430.92 L390.13,430.92 L390.13,430.93 L390.61,430.93 L390.61,431.20 L391.09,431.20 L391.09,430.67 L391.56,430.67 L391.56,432.01 L392.04,432.01 L392.04,431.21 L392.51,431.21 L392.51,431.75 L392.99,431.75 L392.99,430.15 L393.46,430.15 L393.46,429.61 L393.94,429.61 L393.94,432.29 L394.41,432.29 L394.41,432.02 L394.89,432.02 L394.89,430.68 L395.36,430.68 L395.36,430.95 L395.84,430.95 L395.84,432.55 L396.32,432.55 L396.32,430.68 L396.79,430.68 L396.79,429.61 L397.27,429.61 L397.27,431.22 L397.74,431.22 L397.74,431.48 L398.22,431.48 L398.22,430.95 L398.69,430.95 L398.69,429.61 L399.17,429.61 L399.17,431.48 L399.64,431.48 L399.64,431.48 L400.12,431.48 L400.12,431.75 L400.60,431.75 L400.60,430.68 L401.07,430.68 L401.07,431.22 L401.55,431.22 L401.55,431.48 L402.02,431.48 L402.02,431.22 L402.50,431.22 L402.50,432.55 L402.97,432.55 L402.97,431.48 L403.45,431.48 L403.45,429.08 L403.92,429.08 L403.92,430.95 L404.40,430.95 L404.40,431.48 L404.87,431.48 L404.87,429.61 L405.35,429.61 L405.35,431.48 L405.83,431.48 L405.83,431.75 L406.30,431.75 L406.30,432.56 L406.78,432.56 L406.78,432.02 L407.25,432.02 L407.25,431.76 L407.73,431.76 L407.73,431.76 L408.20,431.76 L408.20,430.15 L408.68,430.15 L408.68,431.49 L409.15,431.49 L409.15,431.76 L409.63,431.76 L409.63,430.96 L410.11,430.96 L410.11,429.89 L410.58,429.89 L410.58,431.50 L411.06,431.50 L411.06,430.43 L411.53,430.43 L411.53,431.50 L412.01,431.50 L412.01,430.96 L412.48,430.96 L412.48,430.96 L412.96,430.96 L412.96,429.63 L413.43,429.63 L413.43,430.43 L413.91,430.43 L413.91,431.23 L414.38,431.23 L414.38,430.17 L414.86,430.17 L414.86,431.50 L415.34,431.50 L415.34,431.50 L415.81,431.50 L415.81,429.63 L416.29,429.63 L416.29,430.97 L416.76,430.97 L416.76,430.44 L417.24,430.44 L417.24,431.51 L417.71,431.51 L417.71,429.91 L418.19,429.91 L418.19,430.98 L418.66,430.98 L418.66,431.78 L419.14,431.78 L419.14,429.91 L419.62,429.91 L419.62,431.25 L420.09,431.25 L420.09,431.51 L420.57,431.51 L420.57,431.78 L421.04,431.78 L421.04,432.32 L421.52,432.32 L421.52,432.05 L421.99,432.05 L421.99,430.71 L422.47,430.71 L422.47,432.05 L422.94,432.05 L422.94,431.78 L423.42,431.78 L423.42,431.25 L423.89,431.25 L423.89,431.24 L424.37,431.24 L424.37,431.50 L424.85,431.50 L424.85,430.41 L425.32,430.41 L425.32,431.46 L425.80,431.46 L425.80,430.89 L426.27,430.89 L426.27,430.58 L426.75,430.58 L426.75,431.05 L427.22,431.05 L427.22,430.19 L427.70,430.19 L427.70,430.13 L428.17,430.13 L428.17,427.93 L428.65,427.93 L428.65,429.76 L429.12,429.76 L429.12,427.87 L429.60,427.87 L429.60,429.21 L430.08,429.21 L430.08,428.18 L430.55,428.18 L430.55,428.49 L431.03,428.49 L431.03,429.62 L431.50,429.62 L431.50,428.09 L431.98,428.09 L431.98,429.75 L432.45,429.75 L432.45,430.34 L432.93,430.34 L432.93,432.26 L433.40,432.26 L433.40,431.22 L433.88,431.22 L433.88,431.77 L434.36,431.77 L434.36,431.25 L434.83,431.25 L434.83,429.93 L435.31,429.93 L435.31,430.47 L435.78,430.47 L435.78,432.61 L436.26,432.61 L436.26,431.01 L436.73,431.01 L436.73,430.21 L437.21,430.21 L437.21,431.28 L437.68,431.28 L437.68,432.34 L438.16,432.34 L438.16,430.46 L438.63,430.46 L438.63,431.51 L439.11,431.51 L439.11,429.07 L439.59,429.07 L439.59,429.26 L440.06,429.26 L440.06,428.89 L440.54,428.89 L440.54,427.15 L441.01,427.15 L441.01,429.69 L441.49,429.69 L441.49,426.10 L441.96,426.10 L441.96,427.38 L442.44,427.38 L442.44,428.47 L442.91,428.47 L442.91,428.03 L443.39,428.03 L443.39,428.17 L443.87,428.17 L443.87,431.79 L444.34,431.79 L444.34,430.30 L444.82,430.30 L444.82,430.12 L445.29,430.12 L445.29,431.24 L445.77,431.24 L445.77,431.27 L446.24,431.27 L446.24,431.82 L446.72,431.82 L446.72,429.95 L447.19,429.95 L447.19,432.10 L447.67,432.10 L447.67,431.29 L448.15,431.29 L448.14,431.30 L448.62,431.30 L448.62,433.70 L449.10,433.70 L449.10,429.16 L449.57,429.16 L449.57,432.10 L450.05,432.10 L450.05,429.43 L450.52,429.43 L450.52,430.23 L451.00,430.23 L451.00,430.50 L451.47,430.50 L451.47,430.77 L451.95,430.77 L451.95,431.84 L452.42,431.84 L452.42,431.84 L452.90,431.84 L452.90,431.84 L453.38,431.84 L453.38,430.23 L453.85,430.23 L453.85,432.91 L454.33,432.91 L454.33,432.37 L454.80,432.37 L454.80,430.24 L455.28,430.24 L455.28,431.04 L455.75,431.04 L455.75,431.31 L456.23,431.31 L456.23,429.97 L456.70,429.97 L456.70,431.58 L457.18,431.58 L457.18,430.78 L457.66,430.78 L457.65,431.85 L458.13,431.85 L458.13,430.51 L458.61,430.51 L458.61,432.65 L459.08,432.65 L459.08,431.85 L459.56,431.85 L459.56,431.58 L460.03,431.58 L460.03,431.05 L460.51,431.05 L460.51,431.85 L460.98,431.85 L460.98,431.32 L461.46,431.32 L461.46,429.98 L461.93,429.98 L461.93,431.85 L462.41,431.85 L462.41,432.39 L462.89,432.39 L462.89,432.92 L463.36,432.92 L463.36,430.78 L463.84,430.78 L463.84,431.85 L464.31,431.85 L464.31,431.86 L464.79,431.86 L464.79,431.59 L465.26,431.59 L465.26,432.66 L465.74,432.66 L465.74,432.39 L466.21,432.39 L466.21,432.39 L466.69,432.39 L466.69,432.13 L467.17,432.13 L467.17,430.79 L467.64,430.79 L467.64,432.40 L468.12,432.40 L468.12,432.66 L468.59,432.66 L468.59,430.79 L469.07,430.79 L469.07,431.60 L469.54,431.60 L469.54,433.20 L470.02,433.20 L470.02,431.33 L470.49,431.33 L470.49,431.33 L470.97,431.33 L470.97,431.60 L471.44,431.60 L471.44,431.33 L471.92,431.33 L471.92,431.87 L472.40,431.87 L472.40,432.40 L472.87,432.40 L472.87,431.33 L473.35,431.33 L473.35,431.60 L473.82,431.60 L473.82,431.33 L474.30,431.33 L474.30,432.40 L474.77,432.40 L474.77,432.14 L475.25,432.14 L475.25,431.34 L475.72,431.34 L475.72,432.14 L476.20,432.14 L476.20,431.61 L476.68,431.61 L476.68,431.87 L477.15,431.87 L477.15,431.34 L477.63,431.34 L477.63,432.14 L478.10,432.14 L478.10,431.88 L478.58,431.88 L478.58,431.07 L479.05,431.07 L479.05,432.14 L479.53,432.14 L479.53,432.68 L480.00,432.68 L480.00,431.61 L480.48,431.61 L480.48,432.68 L480.95,432.68 L480.95,431.08 L481.43,431.08 L481.43,432.41 L481.91,432.41 L481.91,430.81 L482.38,430.81 L482.38,431.88 L482.86,431.88 L482.86,432.68 L483.33,432.68 L483.33,431.88 L483.81,431.88 L483.81,431.62 L484.28,431.62 L484.28,431.88 L484.76,431.88 L484.76,431.62 L485.23,431.62 L485.23,432.15 L485.71,432.15 L485.71,430.55 L486.19,430.55 L486.19,432.69 L486.66,432.69 L486.66,431.35 L487.14,431.35 L487.14,433.22 L487.61,433.22 L487.61,431.89 L488.09,431.89 L488.09,432.96 L488.56,432.96 L488.56,432.69 L489.04,432.69 L489.04,431.89 L489.51,431.89 L489.51,430.82 L489.99,430.82 L489.99,432.43 L490.46,432.43 L490.46,432.16 L490.94,432.16 L490.94,432.16 L491.42,432.16 L491.42,431.89 L491.89,431.89 L491.89,432.16 L492.37,432.16 L492.37,432.16 L492.84,432.16 L492.84,431.09 L493.32,431.09 L493.32,431.90 L493.79,431.90 L493.79,432.16 L494.27,432.16 L494.27,431.36 L494.74,431.36 L494.74,429.22 L495.22,429.22 L495.22,432.17 L495.70,432.17 L495.69,433.50 L496.17,433.50 L496.17,432.43 L496.65,432.43 L496.65,431.10 L497.12,431.10 L497.12,432.70 L497.60,432.70 L497.60,432.70 L498.07,432.70 L498.07,431.37 L498.55,431.37 L498.55,432.97 L499.02,432.97 L499.02,431.37 L499.50,431.37 L499.50,432.71 L499.97,432.71 L499.97,432.17 L500.45,432.17 L500.45,431.91 L500.93,431.91 L500.93,432.98 L501.40,432.98 L501.40,431.37 L501.88,431.37 L501.88,432.17 L502.35,432.17 L502.35,431.64 L502.83,431.64 L502.83,431.64 L503.30,431.64 L503.30,432.98 L503.78,432.98 L503.78,431.37 L504.25,431.37 L504.25,431.38 L504.73,431.38 L504.73,432.71 L505.21,432.71 L505.21,431.91 L505.68,431.91 L505.68,432.71 L506.16,432.71 L506.16,432.18 L506.63,432.18 L506.63,431.65 L507.11,431.65 L507.11,432.45 L507.58,432.45 L507.58,432.18 L508.06,432.18 L508.06,432.98 L508.53,432.98 L508.53,431.38 L509.01,431.38 L509.01,431.92 L509.48,431.92 L509.48,431.38 L509.96,431.38 L509.96,432.99 L510.44,432.99 L510.44,431.65 L510.91,431.65 L510.91,432.99 L511.39,432.99 L511.39,432.19 L511.86,432.19 L511.86,432.72 L512.34,432.72 L512.34,431.12 L512.81,431.12 L512.81,432.99 L513.29,432.99 L513.29,432.19 L513.76,432.19 L513.76,432.19 L514.24,432.19 L514.24,432.46 L514.72,432.46 L514.72,433.26 L515.19,433.26 L515.19,431.92 L515.67,431.92 L515.67,430.59 L516.14,430.59 L516.14,432.46 L516.62,432.46 L516.62,431.12 L517.09,431.12 L517.09,432.46 L517.57,432.46 L517.57,432.73 L518.04,432.73 L518.04,432.19 L518.52,432.19 L518.52,430.59 L518.99,430.59 L518.99,431.66 L519.47,431.66 L519.47,431.93 L519.95,431.93 L519.95,433.26 L520.42,433.26 L520.42,432.20 L520.90,432.20 L520.90,433.53 L521.37,433.53 L521.37,433.27 L521.85,433.27 L521.85,432.46 L522.32,432.46 L522.32,432.73 L522.80,432.73 L522.80,433.00 L523.27,433.00 L523.27,432.20 L523.75,432.20 L523.75,431.67 L524.23,431.67 L524.23,431.13 L524.70,431.13 L524.70,431.13 L525.18,431.13 L525.18,432.47 L525.65,432.47 L525.65,433.00 L526.13,433.00 L526.13,430.87 L526.60,430.87 L526.60,432.47 L527.08,432.47 L527.08,432.47 L527.55,432.47 L527.55,431.67 L528.03,431.67 L528.03,432.20 L528.50,432.20 L528.50,431.14 L528.98,431.14 L528.98,431.94 L529.46,431.94 L529.46,431.14 L529.93,431.14 L529.93,433.01 L530.41,433.01 L530.41,431.14 L530.88,431.14 L530.88,432.21 L531.36,432.21 L531.36,431.94 L531.83,431.94 L531.83,432.74 L532.31,432.74 L532.31,432.74 L532.78,432.74 L532.78,432.74 L533.26,432.74 L533.26,433.01 L533.74,433.01 L533.74,430.87 L534.21,430.87 L534.21,433.01 L534.69,433.01 L534.69,432.75 L535.16,432.75 L535.16,432.21 L535.64,432.21 L535.64,432.75 L536.11,432.75 L536.11,432.75 L536.59,432.75 L536.59,432.75 L537.06,432.75 L537.06,432.75 L537.54,432.75 L537.54,433.55 L538.01,433.55 L538.01,431.95 L538.49,431.95 L538.49,431.95 L538.97,431.95 L538.97,432.75 L539.44,432.75 L539.44,431.41 L539.92,431.41 L539.92,432.22 L540.39,432.22 L540.39,432.75 L540.87,432.75 L540.87,430.88 L541.34,430.88 L541.34,432.75 L541.82,432.75 L541.82,431.68 L542.29,431.68 L542.29,431.68 L542.77,431.68 L542.77,433.82 L543.25,433.82 L543.25,431.69 L543.72,431.69 L543.72,432.49 L544.20,432.49 L544.20,432.49 L544.67,432.49 L544.67,431.15 L545.15,431.15 L545.15,432.49 L545.62,432.49 L545.62,432.76 L546.10,432.76 L546.10,433.29 L546.57,433.29 L546.57,431.42 L547.05,431.42 L547.05,432.49 L547.52,432.49 L547.52,431.96 L548.00,431.96 L548.00,432.22 L548.48,432.22 L548.48,430.89 L548.95,430.89 L548.95,431.42 L549.43,431.42 L549.43,431.42 L549.90,431.42 L549.90,432.49 L550.38,432.49 L550.38,431.43 L550.85,431.43 L550.85,432.76 L551.33,432.76 L551.33,433.03 L551.80,433.03 L551.80,432.23 L552.28,432.23 L552.28,433.57 L552.75,433.57 L552.75,430.89 L553.23,430.89 L553.23,432.76 L553.71,432.76 L553.71,432.50 L554.18,432.50 L554.18,432.77 L554.66,432.77 L554.66,432.77 L555.13,432.77 L555.13,432.50 L555.61,432.50 L555.61,431.96 L556.08,431.96 L556.08,433.57 L556.56,433.57 L556.56,432.77 L557.03,432.77 L557.03,433.04 L557.51,433.04 L557.51,431.16 L557.99,431.16 L557.99,432.50 L558.46,432.50 L558.46,432.50 L558.94,432.50 L558.94,431.43 L559.41,431.43 L559.41,432.77 L559.89,432.77 L559.89,432.77 L560.36,432.77 L560.36,432.77 L560.84,432.77 L560.84,433.04 L561.31,433.04 L561.31,432.24 L561.79,432.24 L561.79,432.77 L562.26,432.77 L562.26,432.51 L562.74,432.51 L562.74,432.51 L563.22,432.51 L563.22,431.97 L563.69,431.97 L563.69,431.97 L564.17,431.97 L564.17,432.51 L564.64,432.51 L564.64,431.44 L565.12,431.44 L565.12,431.44 L565.59,431.44 L565.59,431.44 L566.07,431.44 L566.07,432.24 L566.54,432.24 L566.54,432.51 L567.02,432.51 L567.02,432.78 L567.50,432.78 L567.50,431.71 L567.97,431.71 L567.97,432.51 L568.45,432.51 L568.45,431.98 L568.92,431.98 L568.92,432.78 L569.40,432.78 L569.40,432.78 L569.87,432.78 L569.87,433.58 L570.35,433.58 L570.35,432.25 L570.82,432.25 L570.82,432.78 L571.30,432.78 L571.30,432.51 L571.77,432.51 L571.77,432.25 L572.25,432.25 L572.25,431.98 L572.73,431.98 L572.73,431.45 L573.20,431.45 L573.20,432.25 L573.68,432.25 L573.68,433.05 L574.15,433.05 L574.15,431.45 L574.63,431.45 L574.63,433.59 L575.10,433.59 L575.10,432.78 L575.58,432.78 L575.58,431.45 L576.05,431.45 L576.05,431.98 L576.53,431.98 L576.53,432.52 L577.01,432.52 L577.01,431.72 L577.48,431.72 L577.48,433.05 L577.96,433.05 L577.96,433.59 L578.43,433.59 L578.43,433.05 L578.91,433.05 L578.91,431.45 L579.38,431.45 L579.38,433.59 L579.86,433.59 L579.86,432.79 L580.33,432.79 L580.33,432.52 L580.81,432.52 L580.81,433.06 L581.29,433.06 L581.28,431.72 L581.76,431.72 L581.76,433.32 L582.24,433.32 L582.24,433.32 L582.71,433.32 L582.71,430.38 L583.19,430.38 L583.19,433.86 L583.66,433.86 L583.66,433.06 L584.14,433.06 L584.14,432.79 L584.61,432.79 L584.61,431.72 L585.09,431.72 L585.09,432.79 L585.56,432.79 L585.56,432.53 L586.04,432.53 L586.04,431.99 L586.52,431.99 L586.52,432.53 L586.99,432.53 L586.99,431.99 L587.47,431.99 L587.47,433.86 L587.94,433.86 L587.94,432.53 L588.42,432.53 L588.42,433.86 L588.89,433.86 L588.89,431.99 L589.37,431.99 L589.37,433.60 L589.84,433.60 L589.84,433.33 L590.32,433.33 L590.32,432.80 L590.80,432.80 L590.79,432.53 L591.27,432.53 L591.27,433.87 L591.75,433.87 L591.75,432.53 L592.22,432.53 L592.22,433.33 L592.70,433.33 L592.70,433.07 L593.17,433.07 L593.17,433.60 L593.65,433.60 L593.65,432.26 L594.12,432.26 L594.12,432.00 L594.60,432.00 L594.60,432.26 L595.07,432.26 L595.07,433.07 L595.55,433.07 L595.55,433.07 L596.03,433.07 L596.03,431.46 L596.50,431.46 L596.50,432.00 L596.98,432.00 L596.98,431.46 L597.45,431.46 L597.45,432.80 L597.93,432.80 L597.93,432.00 L598.40,432.00 L598.40,432.53 L598.88,432.53 L598.88,432.27 L599.35,432.27 L599.35,432.80 L599.83,432.80 L599.83,432.27 L600.31,432.27 L600.31,432.80 L600.78,432.80 L600.78,433.07 L601.26,433.07 L601.26,432.80 L601.73,432.80 L601.73,433.61 L602.21,433.61 L602.21,432.54 L602.68,432.54 L602.68,433.07 L603.16,433.07 L603.16,433.34 L603.63,433.34 L603.63,432.27 L604.11,432.27 L604.11,432.81 L604.58,432.81 L604.58,433.07 L605.06,433.07 L605.06,431.74 L605.54,431.74 L605.54,431.74 L606.01,431.74 L606.01,432.81 L606.49,432.81 L606.49,432.54 L606.96,432.54 L606.96,434.15 L607.44,434.15 L607.44,433.08 L607.91,433.08 L607.91,431.21 L608.39,431.21 L608.39,432.81 L608.86,432.81 L608.86,430.94 L609.34,430.94 L609.34,433.88 L609.82,433.88 L609.82,433.88 L610.29,433.88 L610.29,433.61 L610.77,433.61 L610.77,433.61 L611.24,433.61 L611.24,432.28 L611.72,432.28 L611.72,431.21 L612.19,431.21 L612.19,432.28 L612.67,432.28 L612.67,432.55 L613.14,432.55 L613.14,433.08 L613.62,433.08 L613.62,433.08 L614.09,433.08 L614.09,433.35 L614.57,433.35 L614.57,432.81 L615.05,432.81 L615.05,433.35 L615.52,433.35 L615.52,432.28 L616.00,432.28 L616.00,432.81 L616.47,432.81 L616.47,433.08 L616.95,433.08 L616.95,432.01 L617.42,432.01 L617.42,433.08 L617.90,433.08 L617.90,432.01 L618.37,432.01 L618.37,432.55 L618.85,432.55 L618.85,432.55 L619.33,432.55 L619.33,432.55 L619.80,432.55 L619.80,432.55 L620.28,432.55 L620.28,432.02 L620.75,432.02 L620.75,430.95 L621.23,430.95 L621.23,432.82 L621.70,432.82 L621.70,431.75 L622.18,431.75 L622.18,433.09 L622.65,433.09 L622.65,431.75 L623.13,431.75 L623.13,432.02 L623.60,432.02 L623.60,432.55 L624.08,432.55 L624.08,433.62 L624.56,433.62 L624.56,432.02 L625.03,432.02 L625.03,433.09 L625.51,433.09 L625.51,433.09 L625.98,433.09 L625.98,431.75 L626.46,431.75 L626.46,433.62 L626.93,433.62 L626.93,432.55 L627.41,432.55 L627.41,433.36 L627.88,433.36 L627.88,432.02 L628.36,432.02 L628.36,433.36 L628.84,433.36 L628.84,433.63 L629.31,433.63 L629.31,432.82 L629.79,432.82 L629.79,432.82 L630.26,432.82 L630.26,432.29 L630.74,432.29 L630.74,433.09 L631.21,433.09 L631.21,433.09 L631.69,433.09 L631.69,433.09 L632.16,433.09 L632.16,432.83 L632.64,432.83 L632.64,433.36 L633.11,433.36 L633.11,432.83 L633.59,432.83 L633.59,432.29 L634.07,432.29 L634.07,432.56 L634.54,432.56 L634.54,433.36 L635.02,433.36 L635.02,432.83 L635.49,432.83 L635.49,433.63 L635.97,433.63 L635.97,432.83 L636.44,432.83 L636.44,432.56 L636.92,432.56 L636.92,434.16 L637.39,434.16 L637.39,432.56 L637.87,432.56 L637.87,432.03 L638.35,432.03 L638.35,433.10 L638.82,433.10 L638.82,433.10 L639.30,433.10 L639.30,432.56 L639.77,432.56 L639.77,433.36 L640.25,433.36 L640.25,433.36 L640.72,433.36 L640.72,432.83 L641.20,432.83 L641.20,432.83 L641.67,432.83 L641.67,433.37 L642.15,433.37 L642.15,433.37 L642.62,433.37 L642.62,432.83 L643.10,432.83 L643.10,432.30 L643.58,432.30 L643.58,433.37 L644.05,433.37 L644.05,432.57 L644.53,432.57 L644.53,432.83 L645.00,432.83 L645.00,433.37 L645.48,433.37 L645.48,433.10 L645.95,433.10 L645.95,432.30 L646.43,432.30 L646.43,433.64 L646.90,433.64 L646.90,432.83 L647.38,432.83 L647.38,432.83 L647.86,432.83 L647.86,433.64 L648.33,433.64 L648.33,433.10 L648.81,433.10 L648.81,433.37 L649.28,433.37 L649.28,433.10 L649.76,433.10 L649.76,433.90 L650.23,433.90 L650.23,432.84 L650.71,432.84 L650.71,432.30 L651.18,432.30 L651.18,432.30 L651.66,432.30 L651.66,432.03 L652.13,432.03 L652.13,433.37 L652.61,433.37 L652.61,432.30 L653.09,432.30 L653.09,433.10 L653.56,433.10 L653.56,432.57 L654.04,432.57 L654.04,433.11 L654.51,433.11 L654.51,432.57 L654.99,432.57 L654.99,433.11 L655.46,433.11 L655.46,431.77 L655.94,431.77 L655.94,433.11 L656.41,433.11 L656.41,432.30 L656.89,432.30 L656.89,433.37 L657.37,433.37 L657.37,432.57 L657.84,432.57 L657.84,433.37 L658.32,433.37 L658.32,433.11 L658.79,433.11 L658.79,433.11 L659.27,433.11 L659.27,432.84 L659.74,432.84 L659.74,432.84 L660.22,432.84 L660.22,433.38 L660.69,433.38 L660.69,432.04 L661.17,432.04 L661.17,433.91 L661.64,433.91 L661.64,433.11 L662.12,433.11 L662.12,433.64 L662.60,433.64 L662.60,433.64 L663.07,433.64 L663.07,433.38 L663.55,433.38 L663.55,432.04 L664.02,432.04 L664.02,433.91 L664.50,433.91 L664.50,432.58 L664.97,432.58 L664.97,432.84 L665.45,432.84 L665.45,432.31 L665.92,432.31 L665.92,432.31 L666.40,432.31 L666.40,433.65 L666.88,433.65 L666.88,432.04 L667.35,432.04 L667.35,433.65 L667.83,433.65 L667.83,433.65 L668.30,433.65 L668.30,433.38 L668.78,433.38 L668.78,432.58 L669.25,432.58 L669.25,432.85 L669.73,432.85 L669.73,432.58 L670.20,432.58 L670.20,433.38 L670.68,433.38 L670.68,433.11 L671.15,433.11 L671.15,433.38 L671.63,433.38 L671.63,431.78 L672.11,431.78 L672.11,432.85 L672.58,432.85 L672.58,432.58 L673.06,432.58 L673.06,433.12 L673.53,433.12 L673.53,433.65 L674.01,433.65 L674.01,433.65 L674.48,433.65 L674.48,433.38 L674.96,433.38 L674.96,432.58 L675.43,432.58 L675.43,433.38 L675.91,433.38 L675.91,433.12 L676.38,433.12 L676.38,433.12 L676.86,433.12 L676.86,433.65 L677.34,433.65 L677.34,433.12 L677.81,433.12 L677.81,433.12 L678.29,433.12 L678.29,432.05 L678.76,432.05 L678.76,432.58 L679.24,432.58 L679.24,433.12 L679.71,433.12 L679.71,433.39 L680.19,433.39 L680.19,433.39 L680.66,433.39 L680.66,433.12 L681.14,433.12 L681.14,433.12 L681.62,433.12 L681.62,431.78 L682.09,431.78 L682.09,433.65 L682.57,433.65 L682.57,433.39 L683.00,433.39 L683.00,434.4 Z" fill="#ff0000" stroke="none"/>
<line x1="356.2" y1="241.9" x2="356.2" y2="434.4" stroke="#5a5a5a" stroke-width="1"/>
<line x1="351.7" y1="241.9" x2="356.2" y2="241.9" stroke="#444" stroke-width="1"/>
<text transform="translate(339.80,244.70) scale(0.9,1)" text-anchor="start" font-family="'Liberation Sans', Arial, sans-serif" font-weight="bold" font-size="7.9" fill="#1c1c24" stroke="#1c1c24" stroke-width="0.18">612</text>
<line x1="351.7" y1="280.9" x2="356.2" y2="280.9" stroke="#444" stroke-width="1"/>
<text transform="translate(339.80,283.70) scale(0.9,1)" text-anchor="start" font-family="'Liberation Sans', Arial, sans-serif" font-weight="bold" font-size="7.9" fill="#1c1c24" stroke="#1c1c24" stroke-width="0.18">490</text>
<line x1="351.7" y1="319.6" x2="356.2" y2="319.6" stroke="#444" stroke-width="1"/>
<text transform="translate(339.80,322.40) scale(0.9,1)" text-anchor="start" font-family="'Liberation Sans', Arial, sans-serif" font-weight="bold" font-size="7.9" fill="#1c1c24" stroke="#1c1c24" stroke-width="0.18">367</text>
<line x1="351.7" y1="358.2" x2="356.2" y2="358.2" stroke="#444" stroke-width="1"/>
<text transform="translate(339.80,361.00) scale(0.9,1)" text-anchor="start" font-family="'Liberation Sans', Arial, sans-serif" font-weight="bold" font-size="7.9" fill="#1c1c24" stroke="#1c1c24" stroke-width="0.18">245</text>
<line x1="351.7" y1="396.6" x2="356.2" y2="396.6" stroke="#444" stroke-width="1"/>
<text transform="translate(339.80,399.40) scale(0.9,1)" text-anchor="start" font-family="'Liberation Sans', Arial, sans-serif" font-weight="bold" font-size="7.9" fill="#1c1c24" stroke="#1c1c24" stroke-width="0.18">122</text>
<line x1="351.7" y1="434.7" x2="356.2" y2="434.7" stroke="#444" stroke-width="1"/>
<text transform="translate(339.80,437.50) scale(0.9,1)" text-anchor="start" font-family="'Liberation Sans', Arial, sans-serif" font-weight="bold" font-size="7.9" fill="#1c1c24" stroke="#1c1c24" stroke-width="0.18">0</text>
<line x1="351.7" y1="434.7" x2="683" y2="434.7" stroke="#2a2a2a" stroke-width="1.6"/>
<line x1="381.6" y1="434.9" x2="381.6" y2="437.9" stroke="#444" stroke-width="1"/>
<text transform="translate(381.57,443.90) scale(0.9,1)" text-anchor="middle" font-family="'Liberation Sans', Arial, sans-serif" font-weight="bold" font-size="7.9" fill="#1c1c24" stroke="#1c1c24" stroke-width="0.18">0.50</text>
<line x1="405.4" y1="434.9" x2="405.4" y2="437.9" stroke="#444" stroke-width="1"/>
<text transform="translate(405.35,443.90) scale(0.9,1)" text-anchor="middle" font-family="'Liberation Sans', Arial, sans-serif" font-weight="bold" font-size="7.9" fill="#1c1c24" stroke="#1c1c24" stroke-width="0.18">1.00</text>
<line x1="429.1" y1="434.9" x2="429.1" y2="437.9" stroke="#444" stroke-width="1"/>
<text transform="translate(429.12,443.90) scale(0.9,1)" text-anchor="middle" font-family="'Liberation Sans', Arial, sans-serif" font-weight="bold" font-size="7.9" fill="#1c1c24" stroke="#1c1c24" stroke-width="0.18">1.50</text>
<line x1="452.9" y1="434.9" x2="452.9" y2="437.9" stroke="#444" stroke-width="1"/>
<text transform="translate(452.90,443.90) scale(0.9,1)" text-anchor="middle" font-family="'Liberation Sans', Arial, sans-serif" font-weight="bold" font-size="7.9" fill="#1c1c24" stroke="#1c1c24" stroke-width="0.18">2.00</text>
<line x1="476.7" y1="434.9" x2="476.7" y2="437.9" stroke="#444" stroke-width="1"/>
<text transform="translate(476.68,443.90) scale(0.9,1)" text-anchor="middle" font-family="'Liberation Sans', Arial, sans-serif" font-weight="bold" font-size="7.9" fill="#1c1c24" stroke="#1c1c24" stroke-width="0.18">2.50</text>
<line x1="500.4" y1="434.9" x2="500.4" y2="437.9" stroke="#444" stroke-width="1"/>
<text transform="translate(500.45,443.90) scale(0.9,1)" text-anchor="middle" font-family="'Liberation Sans', Arial, sans-serif" font-weight="bold" font-size="7.9" fill="#1c1c24" stroke="#1c1c24" stroke-width="0.18">3.00</text>
<line x1="524.2" y1="434.9" x2="524.2" y2="437.9" stroke="#444" stroke-width="1"/>
<text transform="translate(524.23,443.90) scale(0.9,1)" text-anchor="middle" font-family="'Liberation Sans', Arial, sans-serif" font-weight="bold" font-size="7.9" fill="#1c1c24" stroke="#1c1c24" stroke-width="0.18">3.50</text>
<line x1="548.0" y1="434.9" x2="548.0" y2="437.9" stroke="#444" stroke-width="1"/>
<text transform="translate(548.00,443.90) scale(0.9,1)" text-anchor="middle" font-family="'Liberation Sans', Arial, sans-serif" font-weight="bold" font-size="7.9" fill="#1c1c24" stroke="#1c1c24" stroke-width="0.18">4.00</text>
<line x1="571.8" y1="434.9" x2="571.8" y2="437.9" stroke="#444" stroke-width="1"/>
<text transform="translate(571.77,443.90) scale(0.9,1)" text-anchor="middle" font-family="'Liberation Sans', Arial, sans-serif" font-weight="bold" font-size="7.9" fill="#1c1c24" stroke="#1c1c24" stroke-width="0.18">4.50</text>
<line x1="595.5" y1="434.9" x2="595.5" y2="437.9" stroke="#444" stroke-width="1"/>
<text transform="translate(595.55,443.90) scale(0.9,1)" text-anchor="middle" font-family="'Liberation Sans', Arial, sans-serif" font-weight="bold" font-size="7.9" fill="#1c1c24" stroke="#1c1c24" stroke-width="0.18">5.00</text>
<line x1="619.3" y1="434.9" x2="619.3" y2="437.9" stroke="#444" stroke-width="1"/>
<text transform="translate(619.33,443.90) scale(0.9,1)" text-anchor="middle" font-family="'Liberation Sans', Arial, sans-serif" font-weight="bold" font-size="7.9" fill="#1c1c24" stroke="#1c1c24" stroke-width="0.18">5.50</text>
<line x1="643.1" y1="434.9" x2="643.1" y2="437.9" stroke="#444" stroke-width="1"/>
<text transform="translate(643.10,443.90) scale(0.9,1)" text-anchor="middle" font-family="'Liberation Sans', Arial, sans-serif" font-weight="bold" font-size="7.9" fill="#1c1c24" stroke="#1c1c24" stroke-width="0.18">6.00</text>
<line x1="666.9" y1="434.9" x2="666.9" y2="437.9" stroke="#444" stroke-width="1"/>
<text transform="translate(666.88,443.90) scale(0.9,1)" text-anchor="middle" font-family="'Liberation Sans', Arial, sans-serif" font-weight="bold" font-size="7.9" fill="#1c1c24" stroke="#1c1c24" stroke-width="0.18">6.50</text>
<text transform="translate(509.60,450.60) scale(0.94,1)" text-anchor="middle" font-family="'Liberation Sans', Arial, sans-serif" font-weight="bold" font-size="8.1" fill="#1c1c24" stroke="#1c1c24" stroke-width="0.18">Energy - keV</text>
<text transform="translate(372.20,296.30) scale(1.0,1)" text-anchor="middle" font-family="'Liberation Sans', Arial, sans-serif" font-weight="bold" font-size="7.9" fill="#1c1c24" stroke="#1c1c24" stroke-width="0.18">C</text>
<text transform="translate(383.50,423.30) scale(1.0,1)" text-anchor="middle" font-family="'Liberation Sans', Arial, sans-serif" font-weight="bold" font-size="7.9" fill="#1c1c24" stroke="#1c1c24" stroke-width="0.18">O</text>
<text transform="translate(431.60,422.80) scale(1.0,1)" text-anchor="middle" font-family="'Liberation Sans', Arial, sans-serif" font-weight="bold" font-size="7.9" fill="#1c1c24" stroke="#1c1c24" stroke-width="0.18">Al</text>
<text transform="translate(442.90,415.50) scale(1.0,1)" text-anchor="middle" font-family="'Liberation Sans', Arial, sans-serif" font-weight="bold" font-size="7.9" fill="#1c1c24" stroke="#1c1c24" stroke-width="0.18">Si</text>
<text transform="translate(2.00,337.80) scale(0.86,1)" text-anchor="start" font-family="'Liberation Sans', Arial, sans-serif" font-weight="bold" font-size="7.9" fill="#ff2a2a" stroke="#ff2a2a" stroke-width="0.18">KCnt</text>
<text x="78.4" y="61.0" text-anchor="middle" font-family="NanumGothic, 'Liberation Sans', sans-serif" font-weight="normal" font-size="14.9" fill="#111" stroke="#111" stroke-width="0.75">1</text>
<text x="410.3" y="47.9" text-anchor="middle" font-family="NanumGothic, 'Liberation Sans', sans-serif" font-weight="normal" font-size="14.9" fill="#111" stroke="#111" stroke-width="0.75">2</text>
<text x="58.9" y="262.6" text-anchor="middle" font-family="NanumGothic, 'Liberation Sans', sans-serif" font-weight="normal" font-size="14.9" fill="#111" stroke="#111" stroke-width="0.75">3</text>
<text x="406.4" y="275.8" text-anchor="middle" font-family="NanumGothic, 'Liberation Sans', sans-serif" font-weight="normal" font-size="14.9" fill="#111" stroke="#111" stroke-width="0.75">4</text>
<rect x="165.5" y="67.8" width="138.3" height="84.8" fill="url(#chk)"/>
<rect x="165.5" y="55.3" width="138.3" height="12.5" fill="#7e0000"/>
<text x="192.3" y="65.6" text-anchor="middle" font-family="'Liberation Serif', 'Times New Roman', serif" font-weight="bold" font-style="italic" font-size="11" fill="#ffffff">Element</text>
<text x="241.4" y="65.6" text-anchor="middle" font-family="'Liberation Serif', 'Times New Roman', serif" font-weight="bold" font-style="italic" font-size="11" fill="#ffffff">Wt %</text>
<text x="282.6" y="65.6" text-anchor="middle" font-family="'Liberation Serif', 'Times New Roman', serif" font-weight="bold" font-style="italic" font-size="11" fill="#ffffff">At %</text>
<clipPath id="c1"><rect x="165.5" y="67.8" width="138.3" height="84.8"/></clipPath>
<g clip-path="url(#c1)">
<text transform="translate(173.70,77.60) scale(0.93,1)" font-family="'Liberation Serif', 'Times New Roman', serif" font-weight="bold" font-style="italic" font-size="11.4" fill="#000">O K</text>
<text transform="translate(226.30,77.60) scale(0.92,1)" font-family="'Liberation Serif', 'Times New Roman', serif" font-size="11.2" fill="#000" stroke="#000" stroke-width="0.1">48.42</text>
<text transform="translate(268.60,77.60) scale(0.92,1)" font-family="'Liberation Serif', 'Times New Roman', serif" font-size="11.2" fill="#000" stroke="#000" stroke-width="0.1">62.85</text>
<text transform="translate(173.70,90.00) scale(0.93,1)" font-family="'Liberation Serif', 'Times New Roman', serif" font-weight="bold" font-style="italic" font-size="11.4" fill="#000">MgK</text>
<text transform="translate(226.30,90.00) scale(0.92,1)" font-family="'Liberation Serif', 'Times New Roman', serif" font-size="11.2" fill="#000" stroke="#000" stroke-width="0.1">13.37</text>
<text transform="translate(268.60,90.00) scale(0.92,1)" font-family="'Liberation Serif', 'Times New Roman', serif" font-size="11.2" fill="#000" stroke="#000" stroke-width="0.1">11.42</text>
<text transform="translate(173.70,102.40) scale(0.93,1)" font-family="'Liberation Serif', 'Times New Roman', serif" font-weight="bold" font-style="italic" font-size="11.4" fill="#000">AlK</text>
<text transform="translate(226.30,102.40) scale(0.92,1)" font-family="'Liberation Serif', 'Times New Roman', serif" font-size="11.2" fill="#000" stroke="#000" stroke-width="0.1">03.18</text>
<text transform="translate(268.60,102.40) scale(0.92,1)" font-family="'Liberation Serif', 'Times New Roman', serif" font-size="11.2" fill="#000" stroke="#000" stroke-width="0.1">02.45</text>
<text transform="translate(173.70,114.90) scale(0.93,1)" font-family="'Liberation Serif', 'Times New Roman', serif" font-weight="bold" font-style="italic" font-size="11.4" fill="#000">SiK</text>
<text transform="translate(226.30,114.90) scale(0.92,1)" font-family="'Liberation Serif', 'Times New Roman', serif" font-size="11.2" fill="#000" stroke="#000" stroke-width="0.1">12.24</text>
<text transform="translate(268.60,114.90) scale(0.92,1)" font-family="'Liberation Serif', 'Times New Roman', serif" font-size="11.2" fill="#000" stroke="#000" stroke-width="0.1">09.05</text>
<text transform="translate(173.70,127.30) scale(0.93,1)" font-family="'Liberation Serif', 'Times New Roman', serif" font-weight="bold" font-style="italic" font-size="11.4" fill="#000">S K</text>
<text transform="translate(226.30,127.30) scale(0.92,1)" font-family="'Liberation Serif', 'Times New Roman', serif" font-size="11.2" fill="#000" stroke="#000" stroke-width="0.1">18.49</text>
<text transform="translate(268.60,127.30) scale(0.92,1)" font-family="'Liberation Serif', 'Times New Roman', serif" font-size="11.2" fill="#000" stroke="#000" stroke-width="0.1">11.98</text>
<text transform="translate(173.70,139.80) scale(0.93,1)" font-family="'Liberation Serif', 'Times New Roman', serif" font-weight="bold" font-style="italic" font-size="11.4" fill="#000">K K</text>
<text transform="translate(226.30,139.80) scale(0.92,1)" font-family="'Liberation Serif', 'Times New Roman', serif" font-size="11.2" fill="#000" stroke="#000" stroke-width="0.1">02.01</text>
<text transform="translate(268.60,139.80) scale(0.92,1)" font-family="'Liberation Serif', 'Times New Roman', serif" font-size="11.2" fill="#000" stroke="#000" stroke-width="0.1">01.07</text>
<text transform="translate(173.70,151.70) scale(0.93,1)" font-family="'Liberation Serif', 'Times New Roman', serif" font-weight="bold" font-style="italic" font-size="11.4" fill="#000">CaK</text>
<text transform="translate(226.30,151.70) scale(0.92,1)" font-family="'Liberation Serif', 'Times New Roman', serif" font-size="11.2" fill="#000" stroke="#000" stroke-width="0.1">02.28</text>
<text transform="translate(268.60,151.70) scale(0.92,1)" font-family="'Liberation Serif', 'Times New Roman', serif" font-size="11.2" fill="#000" stroke="#000" stroke-width="0.1">01.18</text>
</g>
<line x1="165.5" y1="80.2" x2="303.8" y2="80.2" stroke="#1a1a1a" stroke-width="1.1"/>
<line x1="165.5" y1="92.6" x2="303.8" y2="92.6" stroke="#1a1a1a" stroke-width="1.1"/>
<line x1="165.5" y1="105.1" x2="303.8" y2="105.1" stroke="#1a1a1a" stroke-width="1.1"/>
<line x1="165.5" y1="117.5" x2="303.8" y2="117.5" stroke="#1a1a1a" stroke-width="1.1"/>
<line x1="165.5" y1="130.0" x2="303.8" y2="130.0" stroke="#1a1a1a" stroke-width="1.1"/>
<line x1="165.5" y1="142.5" x2="303.8" y2="142.5" stroke="#1a1a1a" stroke-width="1.1"/>
<line x1="165.5" y1="67.8" x2="303.8" y2="67.8" stroke="#3a1a00" stroke-width="1"/>
<line x1="221.3" y1="55.3" x2="221.3" y2="157.0" stroke="#1a1a1a" stroke-width="1"/>
<line x1="263.6" y1="55.3" x2="263.6" y2="157.0" stroke="#1a1a1a" stroke-width="1"/>
<line x1="165.5" y1="55.3" x2="165.5" y2="157.0" stroke="#444" stroke-width="1.2"/>
<line x1="303.8" y1="55.3" x2="303.8" y2="157.0" stroke="#444" stroke-width="1.2"/>
<line x1="165.5" y1="55.3" x2="303.8" y2="55.3" stroke="#333" stroke-width="1"/>
<line x1="165.0" y1="152.6" x2="304.3" y2="152.6" stroke="#000" stroke-width="1.8"/>
<line x1="165.0" y1="157.0" x2="304.3" y2="157.0" stroke="#000" stroke-width="1.8"/>
<rect x="509.9" y="67.5" width="138.5" height="72.5" fill="url(#chk)"/>
<rect x="509.9" y="55.3" width="138.5" height="12.200000000000003" fill="#7e0000"/>
<text x="536.5" y="65.3" text-anchor="middle" font-family="'Liberation Serif', 'Times New Roman', serif" font-weight="bold" font-style="italic" font-size="11" fill="#ffffff">Element</text>
<text x="585.7" y="65.3" text-anchor="middle" font-family="'Liberation Serif', 'Times New Roman', serif" font-weight="bold" font-style="italic" font-size="11" fill="#ffffff">Wt %</text>
<text x="627.2" y="65.3" text-anchor="middle" font-family="'Liberation Serif', 'Times New Roman', serif" font-weight="bold" font-style="italic" font-size="11" fill="#ffffff">At %</text>
<clipPath id="c2"><rect x="509.9" y="67.5" width="138.5" height="72.5"/></clipPath>
<g clip-path="url(#c2)">
<text transform="translate(518.10,77.30) scale(0.93,1)" font-family="'Liberation Serif', 'Times New Roman', serif" font-weight="bold" font-style="italic" font-size="11.4" fill="#000">O K</text>
<text transform="translate(570.40,77.30) scale(0.92,1)" font-family="'Liberation Serif', 'Times New Roman', serif" font-size="11.2" fill="#000" stroke="#000" stroke-width="0.1">39.34</text>
<text transform="translate(613.20,77.30) scale(0.92,1)" font-family="'Liberation Serif', 'Times New Roman', serif" font-size="11.2" fill="#000" stroke="#000" stroke-width="0.1">53.75</text>
<text transform="translate(518.10,89.80) scale(0.93,1)" font-family="'Liberation Serif', 'Times New Roman', serif" font-weight="bold" font-style="italic" font-size="11.4" fill="#000">MgK</text>
<text transform="translate(570.40,89.80) scale(0.92,1)" font-family="'Liberation Serif', 'Times New Roman', serif" font-size="11.2" fill="#000" stroke="#000" stroke-width="0.1">07.63</text>
<text transform="translate(613.20,89.80) scale(0.92,1)" font-family="'Liberation Serif', 'Times New Roman', serif" font-size="11.2" fill="#000" stroke="#000" stroke-width="0.1">06.86</text>
<text transform="translate(518.10,102.20) scale(0.93,1)" font-family="'Liberation Serif', 'Times New Roman', serif" font-weight="bold" font-style="italic" font-size="11.4" fill="#000">AlK</text>
<text transform="translate(570.40,102.20) scale(0.92,1)" font-family="'Liberation Serif', 'Times New Roman', serif" font-size="11.2" fill="#000" stroke="#000" stroke-width="0.1">05.97</text>
<text transform="translate(613.20,102.20) scale(0.92,1)" font-family="'Liberation Serif', 'Times New Roman', serif" font-size="11.2" fill="#000" stroke="#000" stroke-width="0.1">04.84</text>
<text transform="translate(518.10,114.70) scale(0.93,1)" font-family="'Liberation Serif', 'Times New Roman', serif" font-weight="bold" font-style="italic" font-size="11.4" fill="#000">SiK</text>
<text transform="translate(570.40,114.70) scale(0.92,1)" font-family="'Liberation Serif', 'Times New Roman', serif" font-size="11.2" fill="#000" stroke="#000" stroke-width="0.1">29.76</text>
<text transform="translate(613.20,114.70) scale(0.92,1)" font-family="'Liberation Serif', 'Times New Roman', serif" font-size="11.2" fill="#000" stroke="#000" stroke-width="0.1">23.16</text>
<text transform="translate(518.10,127.10) scale(0.93,1)" font-family="'Liberation Serif', 'Times New Roman', serif" font-weight="bold" font-style="italic" font-size="11.4" fill="#000">S K</text>
<text transform="translate(570.40,127.10) scale(0.92,1)" font-family="'Liberation Serif', 'Times New Roman', serif" font-size="11.2" fill="#000" stroke="#000" stroke-width="0.1">14.00</text>
<text transform="translate(613.20,127.10) scale(0.92,1)" font-family="'Liberation Serif', 'Times New Roman', serif" font-size="11.2" fill="#000" stroke="#000" stroke-width="0.1">09.54</text>
<text transform="translate(518.10,138.80) scale(0.93,1)" font-family="'Liberation Serif', 'Times New Roman', serif" font-weight="bold" font-style="italic" font-size="11.4" fill="#000">K K</text>
<text transform="translate(570.40,138.80) scale(0.92,1)" font-family="'Liberation Serif', 'Times New Roman', serif" font-size="11.2" fill="#000" stroke="#000" stroke-width="0.1">03.29</text>
<text transform="translate(613.20,138.80) scale(0.92,1)" font-family="'Liberation Serif', 'Times New Roman', serif" font-size="11.2" fill="#000" stroke="#000" stroke-width="0.1">01.84</text>
</g>
<line x1="509.9" y1="80.0" x2="648.4" y2="80.0" stroke="#1a1a1a" stroke-width="1.1"/>
<line x1="509.9" y1="92.4" x2="648.4" y2="92.4" stroke="#1a1a1a" stroke-width="1.1"/>
<line x1="509.9" y1="104.9" x2="648.4" y2="104.9" stroke="#1a1a1a" stroke-width="1.1"/>
<line x1="509.9" y1="117.3" x2="648.4" y2="117.3" stroke="#1a1a1a" stroke-width="1.1"/>
<line x1="509.9" y1="129.6" x2="648.4" y2="129.6" stroke="#1a1a1a" stroke-width="1.1"/>
<line x1="509.9" y1="67.5" x2="648.4" y2="67.5" stroke="#3a1a00" stroke-width="1"/>
<line x1="565.4" y1="55.3" x2="565.4" y2="144.0" stroke="#1a1a1a" stroke-width="1"/>
<line x1="608.2" y1="55.3" x2="608.2" y2="144.0" stroke="#1a1a1a" stroke-width="1"/>
<line x1="509.9" y1="55.3" x2="509.9" y2="144.0" stroke="#444" stroke-width="1.2"/>
<line x1="648.4" y1="55.3" x2="648.4" y2="144.0" stroke="#444" stroke-width="1.2"/>
<line x1="509.9" y1="55.3" x2="648.4" y2="55.3" stroke="#333" stroke-width="1"/>
<line x1="509.4" y1="140.0" x2="648.9" y2="140.0" stroke="#000" stroke-width="1.8"/>
<line x1="509.4" y1="144.0" x2="648.9" y2="144.0" stroke="#000" stroke-width="1.8"/>
<rect x="168.3" y="281.4" width="138.3" height="47.400000000000034" fill="url(#chk)"/>
<rect x="168.3" y="268.8" width="138.3" height="12.599999999999966" fill="#7e0000"/>
<text x="195.1" y="279.2" text-anchor="middle" font-family="'Liberation Serif', 'Times New Roman', serif" font-weight="bold" font-style="italic" font-size="11" fill="#ffffff">Element</text>
<text x="244.3" y="279.2" text-anchor="middle" font-family="'Liberation Serif', 'Times New Roman', serif" font-weight="bold" font-style="italic" font-size="11" fill="#ffffff">Wt %</text>
<text x="285.5" y="279.2" text-anchor="middle" font-family="'Liberation Serif', 'Times New Roman', serif" font-weight="bold" font-style="italic" font-size="11" fill="#ffffff">At %</text>
<clipPath id="c3"><rect x="168.3" y="281.4" width="138.3" height="47.400000000000034"/></clipPath>
<g clip-path="url(#c3)">
<text transform="translate(176.50,291.20) scale(0.93,1)" font-family="'Liberation Serif', 'Times New Roman', serif" font-weight="bold" font-style="italic" font-size="11.4" fill="#000">C K</text>
<text transform="translate(229.10,291.20) scale(0.92,1)" font-family="'Liberation Serif', 'Times New Roman', serif" font-size="11.2" fill="#000" stroke="#000" stroke-width="0.1">10.49</text>
<text transform="translate(271.60,291.20) scale(0.92,1)" font-family="'Liberation Serif', 'Times New Roman', serif" font-size="11.2" fill="#000" stroke="#000" stroke-width="0.1">16.92</text>
<text transform="translate(176.50,303.90) scale(0.93,1)" font-family="'Liberation Serif', 'Times New Roman', serif" font-weight="bold" font-style="italic" font-size="11.4" fill="#000">O K</text>
<text transform="translate(229.10,303.90) scale(0.92,1)" font-family="'Liberation Serif', 'Times New Roman', serif" font-size="11.2" fill="#000" stroke="#000" stroke-width="0.1">40.82</text>
<text transform="translate(271.60,303.90) scale(0.92,1)" font-family="'Liberation Serif', 'Times New Roman', serif" font-size="11.2" fill="#000" stroke="#000" stroke-width="0.1">49.45</text>
<text transform="translate(176.50,316.40) scale(0.93,1)" font-family="'Liberation Serif', 'Times New Roman', serif" font-weight="bold" font-style="italic" font-size="11.4" fill="#000">AlK</text>
<text transform="translate(229.10,316.40) scale(0.92,1)" font-family="'Liberation Serif', 'Times New Roman', serif" font-size="11.2" fill="#000" stroke="#000" stroke-width="0.1">01.02</text>
<text transform="translate(271.60,316.40) scale(0.92,1)" font-family="'Liberation Serif', 'Times New Roman', serif" font-size="11.2" fill="#000" stroke="#000" stroke-width="0.1">00.73</text>
<text transform="translate(176.50,328.20) scale(0.93,1)" font-family="'Liberation Serif', 'Times New Roman', serif" font-weight="bold" font-style="italic" font-size="11.4" fill="#000">SiK</text>
<text transform="translate(229.10,328.20) scale(0.92,1)" font-family="'Liberation Serif', 'Times New Roman', serif" font-size="11.2" fill="#000" stroke="#000" stroke-width="0.1">47.67</text>
<text transform="translate(271.60,328.20) scale(0.92,1)" font-family="'Liberation Serif', 'Times New Roman', serif" font-size="11.2" fill="#000" stroke="#000" stroke-width="0.1">32.90</text>
</g>
<line x1="168.3" y1="294.1" x2="306.6" y2="294.1" stroke="#1a1a1a" stroke-width="1.1"/>
<line x1="168.3" y1="306.6" x2="306.6" y2="306.6" stroke="#1a1a1a" stroke-width="1.1"/>
<line x1="168.3" y1="319.0" x2="306.6" y2="319.0" stroke="#1a1a1a" stroke-width="1.1"/>
<line x1="168.3" y1="281.4" x2="306.6" y2="281.4" stroke="#3a1a00" stroke-width="1"/>
<line x1="224.1" y1="268.8" x2="224.1" y2="332.6" stroke="#1a1a1a" stroke-width="1"/>
<line x1="266.6" y1="268.8" x2="266.6" y2="332.6" stroke="#1a1a1a" stroke-width="1"/>
<line x1="168.3" y1="268.8" x2="168.3" y2="332.6" stroke="#444" stroke-width="1.2"/>
<line x1="306.6" y1="268.8" x2="306.6" y2="332.6" stroke="#444" stroke-width="1.2"/>
<line x1="168.3" y1="268.8" x2="306.6" y2="268.8" stroke="#333" stroke-width="1"/>
<line x1="167.8" y1="328.8" x2="307.1" y2="328.8" stroke="#000" stroke-width="1.8"/>
<line x1="167.8" y1="332.6" x2="307.1" y2="332.6" stroke="#000" stroke-width="1.8"/>
<rect x="509.7" y="281.4" width="138.2" height="47.400000000000034" fill="url(#chk)"/>
<rect x="509.7" y="268.8" width="138.2" height="12.599999999999966" fill="#7e0000"/>
<text x="536.5" y="279.2" text-anchor="middle" font-family="'Liberation Serif', 'Times New Roman', serif" font-weight="bold" font-style="italic" font-size="11" fill="#ffffff">Element</text>
<text x="585.8" y="279.2" text-anchor="middle" font-family="'Liberation Serif', 'Times New Roman', serif" font-weight="bold" font-style="italic" font-size="11" fill="#ffffff">Wt %</text>
<text x="627.0" y="279.2" text-anchor="middle" font-family="'Liberation Serif', 'Times New Roman', serif" font-weight="bold" font-style="italic" font-size="11" fill="#ffffff">At %</text>
<clipPath id="c4"><rect x="509.7" y="281.4" width="138.2" height="47.400000000000034"/></clipPath>
<g clip-path="url(#c4)">
<text transform="translate(517.90,291.20) scale(0.93,1)" font-family="'Liberation Serif', 'Times New Roman', serif" font-weight="bold" font-style="italic" font-size="11.4" fill="#000">C K</text>
<text transform="translate(570.50,291.20) scale(0.92,1)" font-family="'Liberation Serif', 'Times New Roman', serif" font-size="11.2" fill="#000" stroke="#000" stroke-width="0.1">83.51</text>
<text transform="translate(613.30,291.20) scale(0.92,1)" font-family="'Liberation Serif', 'Times New Roman', serif" font-size="11.2" fill="#000" stroke="#000" stroke-width="0.1">88.12</text>
<text transform="translate(517.90,303.90) scale(0.93,1)" font-family="'Liberation Serif', 'Times New Roman', serif" font-weight="bold" font-style="italic" font-size="11.4" fill="#000">O K</text>
<text transform="translate(570.50,303.90) scale(0.92,1)" font-family="'Liberation Serif', 'Times New Roman', serif" font-size="11.2" fill="#000" stroke="#000" stroke-width="0.1">12.92</text>
<text transform="translate(613.30,303.90) scale(0.92,1)" font-family="'Liberation Serif', 'Times New Roman', serif" font-size="11.2" fill="#000" stroke="#000" stroke-width="0.1">10.23</text>
<text transform="translate(517.90,316.40) scale(0.93,1)" font-family="'Liberation Serif', 'Times New Roman', serif" font-weight="bold" font-style="italic" font-size="11.4" fill="#000">AlK</text>
<text transform="translate(570.50,316.40) scale(0.92,1)" font-family="'Liberation Serif', 'Times New Roman', serif" font-size="11.2" fill="#000" stroke="#000" stroke-width="0.1">01.63</text>
<text transform="translate(613.30,316.40) scale(0.92,1)" font-family="'Liberation Serif', 'Times New Roman', serif" font-size="11.2" fill="#000" stroke="#000" stroke-width="0.1">00.76</text>
<text transform="translate(517.90,328.20) scale(0.93,1)" font-family="'Liberation Serif', 'Times New Roman', serif" font-weight="bold" font-style="italic" font-size="11.4" fill="#000">SiK</text>
<text transform="translate(570.50,328.20) scale(0.92,1)" font-family="'Liberation Serif', 'Times New Roman', serif" font-size="11.2" fill="#000" stroke="#000" stroke-width="0.1">01.95</text>
<text transform="translate(613.30,328.20) scale(0.92,1)" font-family="'Liberation Serif', 'Times New Roman', serif" font-size="11.2" fill="#000" stroke="#000" stroke-width="0.1">00.88</text>
</g>
<line x1="509.7" y1="294.1" x2="647.9" y2="294.1" stroke="#1a1a1a" stroke-width="1.1"/>
<line x1="509.7" y1="306.6" x2="647.9" y2="306.6" stroke="#1a1a1a" stroke-width="1.1"/>
<line x1="509.7" y1="319.0" x2="647.9" y2="319.0" stroke="#1a1a1a" stroke-width="1.1"/>
<line x1="509.7" y1="281.4" x2="647.9" y2="281.4" stroke="#3a1a00" stroke-width="1"/>
<line x1="565.5" y1="268.8" x2="565.5" y2="332.6" stroke="#1a1a1a" stroke-width="1"/>
<line x1="608.3" y1="268.8" x2="608.3" y2="332.6" stroke="#1a1a1a" stroke-width="1"/>
<line x1="509.7" y1="268.8" x2="509.7" y2="332.6" stroke="#444" stroke-width="1.2"/>
<line x1="647.9" y1="268.8" x2="647.9" y2="332.6" stroke="#444" stroke-width="1.2"/>
<line x1="509.7" y1="268.8" x2="647.9" y2="268.8" stroke="#333" stroke-width="1"/>
<line x1="509.2" y1="328.8" x2="648.4" y2="328.8" stroke="#000" stroke-width="1.8"/>
<line x1="509.2" y1="332.6" x2="648.4" y2="332.6" stroke="#000" stroke-width="1.8"/>
</svg>
</body></html>
